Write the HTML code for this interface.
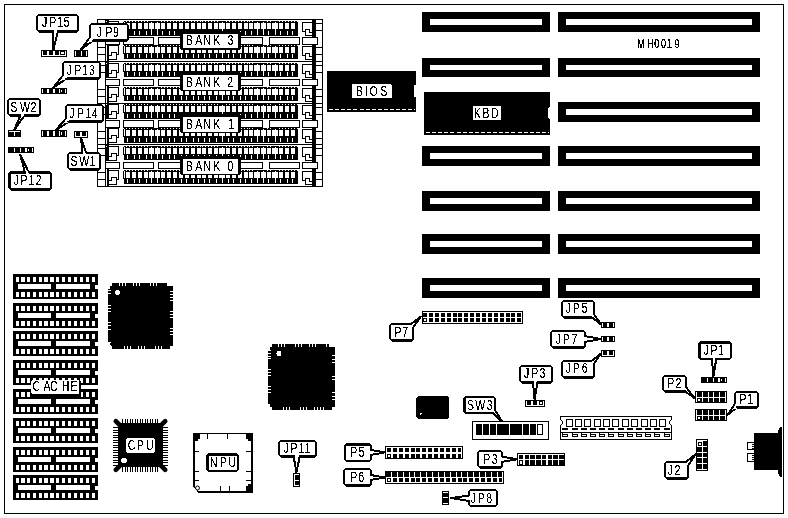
<!DOCTYPE html>
<html lang="en">
<head>
<meta charset="utf-8">
<title>MH0019 motherboard layout</title>
<style>
html,body{margin:0;padding:0;background:#fff;}
body{width:788px;height:518px;overflow:hidden;}
svg{display:block;}
svg text{font-family:"Liberation Sans",sans-serif;fill:#000;}
</style>
</head>
<body>
<svg width="788" height="518" viewBox="0 0 788 518" shape-rendering="crispEdges">
<defs><filter id="bw" x="0" y="0" width="788" height="518" filterUnits="userSpaceOnUse" color-interpolation-filters="sRGB"><feComponentTransfer><feFuncA type="discrete" tableValues="0 0 0 0 0 0 0 0 0 1 1 1 1 1 1 1 1 1 1 1"/></feComponentTransfer></filter><filter id="bw2" x="0" y="0" width="788" height="518" filterUnits="userSpaceOnUse" color-interpolation-filters="sRGB"><feComponentTransfer><feFuncA type="discrete" tableValues="0 0 0 1 1 1 1 1 1 1"/></feComponentTransfer></filter></defs>
<rect x="0" y="0" width="788" height="518" fill="#fff"/>
<rect x="4" y="4" width="780" height="510" fill="#000"/>
<rect x="5" y="5" width="778" height="508" fill="#fff"/>
<rect x="422" y="12" width="128" height="20" fill="#000"/>
<rect x="430" y="19" width="112" height="6" fill="#fff"/>
<rect x="558" y="12" width="202" height="20" fill="#000"/>
<rect x="566" y="19" width="186" height="6" fill="#fff"/>
<rect x="422" y="58" width="128" height="19" fill="#000"/>
<rect x="430" y="65" width="112" height="5" fill="#fff"/>
<rect x="558" y="58" width="202" height="19" fill="#000"/>
<rect x="566" y="65" width="186" height="5" fill="#fff"/>
<rect x="558" y="102" width="202" height="20" fill="#000"/>
<rect x="566" y="109" width="186" height="6" fill="#fff"/>
<rect x="422" y="146" width="128" height="20" fill="#000"/>
<rect x="430" y="153" width="112" height="6" fill="#fff"/>
<rect x="558" y="146" width="202" height="20" fill="#000"/>
<rect x="566" y="153" width="186" height="6" fill="#fff"/>
<rect x="422" y="191" width="128" height="20" fill="#000"/>
<rect x="430" y="198" width="112" height="6" fill="#fff"/>
<rect x="558" y="191" width="202" height="20" fill="#000"/>
<rect x="566" y="198" width="186" height="6" fill="#fff"/>
<rect x="422" y="234" width="128" height="20" fill="#000"/>
<rect x="430" y="241" width="112" height="6" fill="#fff"/>
<rect x="558" y="234" width="202" height="20" fill="#000"/>
<rect x="566" y="241" width="186" height="6" fill="#fff"/>
<rect x="422" y="278" width="128" height="20" fill="#000"/>
<rect x="430" y="285" width="112" height="6" fill="#fff"/>
<rect x="558" y="278" width="202" height="20" fill="#000"/>
<rect x="566" y="285" width="186" height="6" fill="#fff"/>
<rect x="327" y="71" width="89" height="41" fill="#000"/>
<rect x="329" y="109" width="4" height="1" fill="#fff"/>
<rect x="335" y="109" width="4" height="1" fill="#fff"/>
<rect x="341" y="109" width="4" height="1" fill="#fff"/>
<rect x="347" y="109" width="4" height="1" fill="#fff"/>
<rect x="353" y="109" width="4" height="1" fill="#fff"/>
<rect x="360" y="109" width="4" height="1" fill="#fff"/>
<rect x="366" y="109" width="4" height="1" fill="#fff"/>
<rect x="372" y="109" width="4" height="1" fill="#fff"/>
<rect x="378" y="109" width="4" height="1" fill="#fff"/>
<rect x="384" y="109" width="4" height="1" fill="#fff"/>
<rect x="390" y="109" width="4" height="1" fill="#fff"/>
<rect x="396" y="109" width="4" height="1" fill="#fff"/>
<rect x="402" y="109" width="4" height="1" fill="#fff"/>
<rect x="408" y="109" width="4" height="1" fill="#fff"/>
<rect x="414" y="109" width="1" height="1" fill="#fff"/>
<rect x="414" y="85" width="2" height="12" fill="#fff"/>
<rect x="352" y="84" width="40" height="14" fill="#fff"/>
<rect x="391" y="84" width="1" height="1" fill="#000"/>
<rect x="424" y="92" width="126" height="43" fill="#000"/>
<rect x="426" y="132" width="4" height="1" fill="#fff"/>
<rect x="432" y="132" width="4" height="1" fill="#fff"/>
<rect x="438" y="132" width="4" height="1" fill="#fff"/>
<rect x="444" y="132" width="4" height="1" fill="#fff"/>
<rect x="450" y="132" width="4" height="1" fill="#fff"/>
<rect x="457" y="132" width="4" height="1" fill="#fff"/>
<rect x="463" y="132" width="4" height="1" fill="#fff"/>
<rect x="469" y="132" width="4" height="1" fill="#fff"/>
<rect x="475" y="132" width="4" height="1" fill="#fff"/>
<rect x="481" y="132" width="4" height="1" fill="#fff"/>
<rect x="487" y="132" width="4" height="1" fill="#fff"/>
<rect x="493" y="132" width="4" height="1" fill="#fff"/>
<rect x="499" y="132" width="4" height="1" fill="#fff"/>
<rect x="505" y="132" width="4" height="1" fill="#fff"/>
<rect x="511" y="132" width="4" height="1" fill="#fff"/>
<rect x="518" y="132" width="4" height="1" fill="#fff"/>
<rect x="524" y="132" width="4" height="1" fill="#fff"/>
<rect x="530" y="132" width="4" height="1" fill="#fff"/>
<rect x="536" y="132" width="4" height="1" fill="#fff"/>
<rect x="542" y="132" width="4" height="1" fill="#fff"/>
<rect x="548" y="132" width="1" height="1" fill="#fff"/>
<path d="M550,107 L549,107 L548,109 L548,117 L549,119 L550,119 Z" fill="#fff"/>
<rect x="473" y="106" width="28" height="14" fill="#fff"/>
<rect x="97" y="19" width="226" height="1" fill="#000"/>
<rect x="97" y="19" width="1" height="42" fill="#000"/>
<rect x="105" y="19" width="1" height="42" fill="#000"/>
<rect x="322" y="19" width="1" height="42" fill="#000"/>
<rect x="97" y="23" width="9" height="1" fill="#000"/>
<rect x="315" y="23" width="8" height="1" fill="#000"/>
<rect x="97" y="30" width="9" height="1" fill="#000"/>
<rect x="315" y="30" width="8" height="1" fill="#000"/>
<rect x="97" y="47" width="9" height="1" fill="#000"/>
<rect x="315" y="47" width="8" height="1" fill="#000"/>
<rect x="97" y="54" width="9" height="1" fill="#000"/>
<rect x="315" y="54" width="8" height="1" fill="#000"/>
<rect x="105" y="19" width="4" height="17" fill="#000"/>
<rect x="107" y="44" width="2" height="17" fill="#000"/>
<rect x="106" y="21" width="1" height="1" fill="#fff"/>
<rect x="106" y="44" width="1" height="1" fill="#fff"/>
<rect x="312" y="19" width="4" height="42" fill="#000"/>
<rect x="123" y="21" width="175" height="15" fill="#000"/>
<rect x="124" y="22" width="1" height="7" fill="#fff"/>
<rect x="123" y="21" width="1" height="1" fill="#fff"/>
<rect x="297" y="21" width="1" height="1" fill="#fff"/>
<rect x="123" y="30" width="1" height="6" fill="#fff"/>
<rect x="126" y="23" width="4" height="6" fill="#fff"/>
<rect x="127" y="31" width="1" height="4" fill="#fff"/>
<rect x="126" y="21" width="1" height="1" fill="#fff"/>
<rect x="129" y="21" width="1" height="1" fill="#fff"/>
<rect x="132" y="23" width="4" height="6" fill="#fff"/>
<rect x="134" y="31" width="1" height="4" fill="#fff"/>
<rect x="132" y="21" width="1" height="1" fill="#fff"/>
<rect x="135" y="21" width="1" height="1" fill="#fff"/>
<rect x="138" y="23" width="4" height="6" fill="#fff"/>
<rect x="139" y="31" width="1" height="4" fill="#fff"/>
<rect x="138" y="21" width="1" height="1" fill="#fff"/>
<rect x="141" y="21" width="1" height="1" fill="#fff"/>
<rect x="144" y="23" width="4" height="6" fill="#fff"/>
<rect x="146" y="31" width="1" height="4" fill="#fff"/>
<rect x="144" y="21" width="1" height="1" fill="#fff"/>
<rect x="147" y="21" width="1" height="1" fill="#fff"/>
<rect x="149" y="23" width="5" height="6" fill="#fff"/>
<rect x="151" y="22" width="1" height="13" fill="#fff"/>
<rect x="155" y="23" width="5" height="6" fill="#fff"/>
<rect x="157" y="22" width="1" height="13" fill="#fff"/>
<rect x="161" y="23" width="4" height="6" fill="#fff"/>
<rect x="162" y="31" width="1" height="4" fill="#fff"/>
<rect x="161" y="21" width="1" height="1" fill="#fff"/>
<rect x="164" y="21" width="1" height="1" fill="#fff"/>
<rect x="167" y="23" width="4" height="6" fill="#fff"/>
<rect x="169" y="31" width="1" height="4" fill="#fff"/>
<rect x="167" y="21" width="1" height="1" fill="#fff"/>
<rect x="170" y="21" width="1" height="1" fill="#fff"/>
<rect x="173" y="23" width="4" height="6" fill="#fff"/>
<rect x="174" y="31" width="1" height="4" fill="#fff"/>
<rect x="173" y="21" width="1" height="1" fill="#fff"/>
<rect x="176" y="21" width="1" height="1" fill="#fff"/>
<rect x="179" y="23" width="4" height="6" fill="#fff"/>
<rect x="181" y="31" width="1" height="4" fill="#fff"/>
<rect x="179" y="21" width="1" height="1" fill="#fff"/>
<rect x="182" y="21" width="1" height="1" fill="#fff"/>
<rect x="185" y="23" width="4" height="6" fill="#fff"/>
<rect x="186" y="31" width="1" height="4" fill="#fff"/>
<rect x="185" y="21" width="1" height="1" fill="#fff"/>
<rect x="188" y="21" width="1" height="1" fill="#fff"/>
<rect x="191" y="23" width="4" height="6" fill="#fff"/>
<rect x="193" y="31" width="1" height="4" fill="#fff"/>
<rect x="191" y="21" width="1" height="1" fill="#fff"/>
<rect x="194" y="21" width="1" height="1" fill="#fff"/>
<rect x="197" y="23" width="4" height="6" fill="#fff"/>
<rect x="198" y="31" width="1" height="4" fill="#fff"/>
<rect x="197" y="21" width="1" height="1" fill="#fff"/>
<rect x="200" y="21" width="1" height="1" fill="#fff"/>
<rect x="202" y="23" width="4" height="6" fill="#fff"/>
<rect x="204" y="31" width="1" height="4" fill="#fff"/>
<rect x="202" y="21" width="1" height="1" fill="#fff"/>
<rect x="205" y="21" width="1" height="1" fill="#fff"/>
<rect x="208" y="23" width="4" height="6" fill="#fff"/>
<rect x="209" y="31" width="1" height="4" fill="#fff"/>
<rect x="208" y="21" width="1" height="1" fill="#fff"/>
<rect x="211" y="21" width="1" height="1" fill="#fff"/>
<rect x="214" y="23" width="4" height="6" fill="#fff"/>
<rect x="216" y="31" width="1" height="4" fill="#fff"/>
<rect x="214" y="21" width="1" height="1" fill="#fff"/>
<rect x="217" y="21" width="1" height="1" fill="#fff"/>
<rect x="219" y="23" width="6" height="6" fill="#fff"/>
<rect x="222" y="22" width="1" height="13" fill="#fff"/>
<rect x="226" y="23" width="4" height="6" fill="#fff"/>
<rect x="228" y="31" width="1" height="4" fill="#fff"/>
<rect x="226" y="21" width="1" height="1" fill="#fff"/>
<rect x="229" y="21" width="1" height="1" fill="#fff"/>
<rect x="232" y="23" width="4" height="6" fill="#fff"/>
<rect x="233" y="31" width="1" height="4" fill="#fff"/>
<rect x="232" y="21" width="1" height="1" fill="#fff"/>
<rect x="235" y="21" width="1" height="1" fill="#fff"/>
<rect x="238" y="23" width="4" height="6" fill="#fff"/>
<rect x="240" y="31" width="1" height="4" fill="#fff"/>
<rect x="238" y="21" width="1" height="1" fill="#fff"/>
<rect x="241" y="21" width="1" height="1" fill="#fff"/>
<rect x="244" y="23" width="4" height="6" fill="#fff"/>
<rect x="245" y="31" width="1" height="4" fill="#fff"/>
<rect x="244" y="21" width="1" height="1" fill="#fff"/>
<rect x="247" y="21" width="1" height="1" fill="#fff"/>
<rect x="249" y="23" width="4" height="6" fill="#fff"/>
<rect x="251" y="31" width="1" height="4" fill="#fff"/>
<rect x="249" y="21" width="1" height="1" fill="#fff"/>
<rect x="252" y="21" width="1" height="1" fill="#fff"/>
<rect x="254" y="23" width="6" height="6" fill="#fff"/>
<rect x="257" y="22" width="1" height="13" fill="#fff"/>
<rect x="261" y="23" width="5" height="6" fill="#fff"/>
<rect x="263" y="22" width="1" height="13" fill="#fff"/>
<rect x="267" y="23" width="4" height="6" fill="#fff"/>
<rect x="268" y="31" width="1" height="4" fill="#fff"/>
<rect x="267" y="21" width="1" height="1" fill="#fff"/>
<rect x="270" y="21" width="1" height="1" fill="#fff"/>
<rect x="272" y="23" width="6" height="6" fill="#fff"/>
<rect x="275" y="22" width="1" height="13" fill="#fff"/>
<rect x="279" y="23" width="4" height="6" fill="#fff"/>
<rect x="280" y="31" width="1" height="4" fill="#fff"/>
<rect x="279" y="21" width="1" height="1" fill="#fff"/>
<rect x="282" y="21" width="1" height="1" fill="#fff"/>
<rect x="285" y="23" width="4" height="6" fill="#fff"/>
<rect x="287" y="31" width="1" height="4" fill="#fff"/>
<rect x="285" y="21" width="1" height="1" fill="#fff"/>
<rect x="288" y="21" width="1" height="1" fill="#fff"/>
<rect x="291" y="23" width="4" height="6" fill="#fff"/>
<rect x="292" y="31" width="1" height="4" fill="#fff"/>
<rect x="291" y="21" width="1" height="1" fill="#fff"/>
<rect x="294" y="21" width="1" height="1" fill="#fff"/>
<rect x="123" y="45" width="175" height="14" fill="#000"/>
<rect x="124" y="46" width="1" height="7" fill="#fff"/>
<rect x="123" y="45" width="1" height="1" fill="#fff"/>
<rect x="297" y="45" width="1" height="1" fill="#fff"/>
<rect x="123" y="54" width="1" height="5" fill="#fff"/>
<rect x="126" y="47" width="4" height="6" fill="#fff"/>
<rect x="127" y="54" width="1" height="4" fill="#fff"/>
<rect x="126" y="45" width="1" height="1" fill="#fff"/>
<rect x="129" y="45" width="1" height="1" fill="#fff"/>
<rect x="132" y="47" width="4" height="6" fill="#fff"/>
<rect x="134" y="54" width="1" height="4" fill="#fff"/>
<rect x="132" y="45" width="1" height="1" fill="#fff"/>
<rect x="135" y="45" width="1" height="1" fill="#fff"/>
<rect x="138" y="47" width="4" height="6" fill="#fff"/>
<rect x="139" y="54" width="1" height="4" fill="#fff"/>
<rect x="138" y="45" width="1" height="1" fill="#fff"/>
<rect x="141" y="45" width="1" height="1" fill="#fff"/>
<rect x="144" y="47" width="4" height="6" fill="#fff"/>
<rect x="146" y="54" width="1" height="4" fill="#fff"/>
<rect x="144" y="45" width="1" height="1" fill="#fff"/>
<rect x="147" y="45" width="1" height="1" fill="#fff"/>
<rect x="149" y="47" width="5" height="6" fill="#fff"/>
<rect x="151" y="46" width="1" height="12" fill="#fff"/>
<rect x="155" y="47" width="5" height="6" fill="#fff"/>
<rect x="157" y="46" width="1" height="12" fill="#fff"/>
<rect x="161" y="47" width="4" height="6" fill="#fff"/>
<rect x="162" y="54" width="1" height="4" fill="#fff"/>
<rect x="161" y="45" width="1" height="1" fill="#fff"/>
<rect x="164" y="45" width="1" height="1" fill="#fff"/>
<rect x="167" y="47" width="4" height="6" fill="#fff"/>
<rect x="169" y="54" width="1" height="4" fill="#fff"/>
<rect x="167" y="45" width="1" height="1" fill="#fff"/>
<rect x="170" y="45" width="1" height="1" fill="#fff"/>
<rect x="173" y="47" width="4" height="6" fill="#fff"/>
<rect x="174" y="54" width="1" height="4" fill="#fff"/>
<rect x="173" y="45" width="1" height="1" fill="#fff"/>
<rect x="176" y="45" width="1" height="1" fill="#fff"/>
<rect x="179" y="47" width="4" height="6" fill="#fff"/>
<rect x="181" y="54" width="1" height="4" fill="#fff"/>
<rect x="179" y="45" width="1" height="1" fill="#fff"/>
<rect x="182" y="45" width="1" height="1" fill="#fff"/>
<rect x="185" y="47" width="4" height="6" fill="#fff"/>
<rect x="186" y="54" width="1" height="4" fill="#fff"/>
<rect x="185" y="45" width="1" height="1" fill="#fff"/>
<rect x="188" y="45" width="1" height="1" fill="#fff"/>
<rect x="191" y="47" width="4" height="6" fill="#fff"/>
<rect x="193" y="54" width="1" height="4" fill="#fff"/>
<rect x="191" y="45" width="1" height="1" fill="#fff"/>
<rect x="194" y="45" width="1" height="1" fill="#fff"/>
<rect x="197" y="47" width="4" height="6" fill="#fff"/>
<rect x="198" y="54" width="1" height="4" fill="#fff"/>
<rect x="197" y="45" width="1" height="1" fill="#fff"/>
<rect x="200" y="45" width="1" height="1" fill="#fff"/>
<rect x="202" y="47" width="4" height="6" fill="#fff"/>
<rect x="204" y="54" width="1" height="4" fill="#fff"/>
<rect x="202" y="45" width="1" height="1" fill="#fff"/>
<rect x="205" y="45" width="1" height="1" fill="#fff"/>
<rect x="208" y="47" width="4" height="6" fill="#fff"/>
<rect x="209" y="54" width="1" height="4" fill="#fff"/>
<rect x="208" y="45" width="1" height="1" fill="#fff"/>
<rect x="211" y="45" width="1" height="1" fill="#fff"/>
<rect x="214" y="47" width="4" height="6" fill="#fff"/>
<rect x="216" y="54" width="1" height="4" fill="#fff"/>
<rect x="214" y="45" width="1" height="1" fill="#fff"/>
<rect x="217" y="45" width="1" height="1" fill="#fff"/>
<rect x="219" y="47" width="6" height="6" fill="#fff"/>
<rect x="222" y="46" width="1" height="12" fill="#fff"/>
<rect x="226" y="47" width="4" height="6" fill="#fff"/>
<rect x="228" y="54" width="1" height="4" fill="#fff"/>
<rect x="226" y="45" width="1" height="1" fill="#fff"/>
<rect x="229" y="45" width="1" height="1" fill="#fff"/>
<rect x="232" y="47" width="4" height="6" fill="#fff"/>
<rect x="233" y="54" width="1" height="4" fill="#fff"/>
<rect x="232" y="45" width="1" height="1" fill="#fff"/>
<rect x="235" y="45" width="1" height="1" fill="#fff"/>
<rect x="238" y="47" width="4" height="6" fill="#fff"/>
<rect x="240" y="54" width="1" height="4" fill="#fff"/>
<rect x="238" y="45" width="1" height="1" fill="#fff"/>
<rect x="241" y="45" width="1" height="1" fill="#fff"/>
<rect x="244" y="47" width="4" height="6" fill="#fff"/>
<rect x="245" y="54" width="1" height="4" fill="#fff"/>
<rect x="244" y="45" width="1" height="1" fill="#fff"/>
<rect x="247" y="45" width="1" height="1" fill="#fff"/>
<rect x="249" y="47" width="4" height="6" fill="#fff"/>
<rect x="251" y="54" width="1" height="4" fill="#fff"/>
<rect x="249" y="45" width="1" height="1" fill="#fff"/>
<rect x="252" y="45" width="1" height="1" fill="#fff"/>
<rect x="254" y="47" width="6" height="6" fill="#fff"/>
<rect x="257" y="46" width="1" height="12" fill="#fff"/>
<rect x="261" y="47" width="5" height="6" fill="#fff"/>
<rect x="263" y="46" width="1" height="12" fill="#fff"/>
<rect x="267" y="47" width="4" height="6" fill="#fff"/>
<rect x="268" y="54" width="1" height="4" fill="#fff"/>
<rect x="267" y="45" width="1" height="1" fill="#fff"/>
<rect x="270" y="45" width="1" height="1" fill="#fff"/>
<rect x="272" y="47" width="6" height="6" fill="#fff"/>
<rect x="275" y="46" width="1" height="12" fill="#fff"/>
<rect x="279" y="47" width="4" height="6" fill="#fff"/>
<rect x="280" y="54" width="1" height="4" fill="#fff"/>
<rect x="279" y="45" width="1" height="1" fill="#fff"/>
<rect x="282" y="45" width="1" height="1" fill="#fff"/>
<rect x="285" y="47" width="4" height="6" fill="#fff"/>
<rect x="287" y="54" width="1" height="4" fill="#fff"/>
<rect x="285" y="45" width="1" height="1" fill="#fff"/>
<rect x="288" y="45" width="1" height="1" fill="#fff"/>
<rect x="291" y="47" width="4" height="6" fill="#fff"/>
<rect x="292" y="54" width="1" height="4" fill="#fff"/>
<rect x="291" y="45" width="1" height="1" fill="#fff"/>
<rect x="294" y="45" width="1" height="1" fill="#fff"/>
<rect x="109" y="21" width="10" height="15" fill="#fff"/>
<rect x="109" y="21" width="10" height="1" fill="#000"/>
<rect x="118" y="21" width="1" height="10" fill="#000"/>
<rect x="116" y="30" width="3" height="1" fill="#000"/>
<rect x="116" y="28" width="1" height="8" fill="#000"/>
<rect x="111" y="28" width="6" height="1" fill="#000"/>
<rect x="111" y="28" width="1" height="4" fill="#000"/>
<rect x="109" y="31" width="3" height="1" fill="#000"/>
<rect x="109" y="35" width="8" height="1" fill="#000"/>
<rect x="117" y="31" width="2" height="5" fill="#fff"/>
<rect x="109" y="45" width="10" height="15" fill="#fff"/>
<rect x="109" y="45" width="10" height="1" fill="#000"/>
<rect x="118" y="45" width="1" height="10" fill="#000"/>
<rect x="116" y="54" width="3" height="1" fill="#000"/>
<rect x="116" y="52" width="1" height="8" fill="#000"/>
<rect x="111" y="52" width="6" height="1" fill="#000"/>
<rect x="111" y="52" width="1" height="4" fill="#000"/>
<rect x="109" y="55" width="3" height="1" fill="#000"/>
<rect x="109" y="59" width="8" height="1" fill="#000"/>
<rect x="117" y="55" width="2" height="5" fill="#fff"/>
<rect x="302" y="22" width="10" height="14" fill="#fff"/>
<rect x="302" y="22" width="10" height="1" fill="#000"/>
<rect x="302" y="22" width="1" height="10" fill="#000"/>
<rect x="302" y="31" width="4" height="1" fill="#000"/>
<rect x="305" y="29" width="1" height="7" fill="#000"/>
<rect x="305" y="29" width="5" height="1" fill="#000"/>
<rect x="309" y="29" width="1" height="4" fill="#000"/>
<rect x="309" y="32" width="3" height="1" fill="#000"/>
<rect x="305" y="35" width="7" height="1" fill="#000"/>
<rect x="302" y="32" width="3" height="4" fill="#fff"/>
<rect x="302" y="46" width="10" height="14" fill="#fff"/>
<rect x="302" y="46" width="10" height="1" fill="#000"/>
<rect x="302" y="46" width="1" height="10" fill="#000"/>
<rect x="302" y="55" width="4" height="1" fill="#000"/>
<rect x="305" y="53" width="1" height="7" fill="#000"/>
<rect x="305" y="53" width="5" height="1" fill="#000"/>
<rect x="309" y="53" width="1" height="4" fill="#000"/>
<rect x="309" y="56" width="3" height="1" fill="#000"/>
<rect x="305" y="59" width="7" height="1" fill="#000"/>
<rect x="302" y="56" width="3" height="4" fill="#fff"/>
<rect x="105" y="37" width="15" height="8" fill="#000"/>
<rect x="106" y="38" width="13" height="6" fill="#fff"/>
<rect x="123" y="37" width="31" height="8" fill="#000"/>
<rect x="124" y="38" width="29" height="6" fill="#fff"/>
<rect x="158" y="37" width="105" height="8" fill="#000"/>
<rect x="159" y="38" width="103" height="6" fill="#fff"/>
<rect x="269" y="37" width="31" height="8" fill="#000"/>
<rect x="270" y="38" width="29" height="6" fill="#fff"/>
<rect x="302" y="37" width="16" height="8" fill="#000"/>
<rect x="303" y="38" width="14" height="6" fill="#fff"/>
<rect x="97" y="61" width="226" height="1" fill="#000"/>
<rect x="97" y="61" width="1" height="42" fill="#000"/>
<rect x="105" y="61" width="1" height="42" fill="#000"/>
<rect x="322" y="61" width="1" height="42" fill="#000"/>
<rect x="97" y="65" width="9" height="1" fill="#000"/>
<rect x="315" y="65" width="8" height="1" fill="#000"/>
<rect x="97" y="72" width="9" height="1" fill="#000"/>
<rect x="315" y="72" width="8" height="1" fill="#000"/>
<rect x="97" y="89" width="9" height="1" fill="#000"/>
<rect x="315" y="89" width="8" height="1" fill="#000"/>
<rect x="97" y="96" width="9" height="1" fill="#000"/>
<rect x="315" y="96" width="8" height="1" fill="#000"/>
<rect x="105" y="61" width="4" height="17" fill="#000"/>
<rect x="107" y="86" width="2" height="17" fill="#000"/>
<rect x="106" y="63" width="1" height="1" fill="#fff"/>
<rect x="106" y="86" width="1" height="1" fill="#fff"/>
<rect x="312" y="61" width="4" height="42" fill="#000"/>
<rect x="123" y="63" width="175" height="14" fill="#000"/>
<rect x="124" y="64" width="1" height="7" fill="#fff"/>
<rect x="123" y="63" width="1" height="1" fill="#fff"/>
<rect x="297" y="63" width="1" height="1" fill="#fff"/>
<rect x="123" y="72" width="1" height="5" fill="#fff"/>
<rect x="126" y="65" width="4" height="6" fill="#fff"/>
<rect x="127" y="72" width="1" height="4" fill="#fff"/>
<rect x="126" y="63" width="1" height="1" fill="#fff"/>
<rect x="129" y="63" width="1" height="1" fill="#fff"/>
<rect x="132" y="65" width="4" height="6" fill="#fff"/>
<rect x="134" y="72" width="1" height="4" fill="#fff"/>
<rect x="132" y="63" width="1" height="1" fill="#fff"/>
<rect x="135" y="63" width="1" height="1" fill="#fff"/>
<rect x="138" y="65" width="4" height="6" fill="#fff"/>
<rect x="139" y="72" width="1" height="4" fill="#fff"/>
<rect x="138" y="63" width="1" height="1" fill="#fff"/>
<rect x="141" y="63" width="1" height="1" fill="#fff"/>
<rect x="144" y="65" width="4" height="6" fill="#fff"/>
<rect x="146" y="72" width="1" height="4" fill="#fff"/>
<rect x="144" y="63" width="1" height="1" fill="#fff"/>
<rect x="147" y="63" width="1" height="1" fill="#fff"/>
<rect x="149" y="65" width="5" height="6" fill="#fff"/>
<rect x="151" y="64" width="1" height="12" fill="#fff"/>
<rect x="155" y="65" width="5" height="6" fill="#fff"/>
<rect x="157" y="64" width="1" height="12" fill="#fff"/>
<rect x="161" y="65" width="4" height="6" fill="#fff"/>
<rect x="162" y="72" width="1" height="4" fill="#fff"/>
<rect x="161" y="63" width="1" height="1" fill="#fff"/>
<rect x="164" y="63" width="1" height="1" fill="#fff"/>
<rect x="167" y="65" width="4" height="6" fill="#fff"/>
<rect x="169" y="72" width="1" height="4" fill="#fff"/>
<rect x="167" y="63" width="1" height="1" fill="#fff"/>
<rect x="170" y="63" width="1" height="1" fill="#fff"/>
<rect x="173" y="65" width="4" height="6" fill="#fff"/>
<rect x="174" y="72" width="1" height="4" fill="#fff"/>
<rect x="173" y="63" width="1" height="1" fill="#fff"/>
<rect x="176" y="63" width="1" height="1" fill="#fff"/>
<rect x="179" y="65" width="4" height="6" fill="#fff"/>
<rect x="181" y="72" width="1" height="4" fill="#fff"/>
<rect x="179" y="63" width="1" height="1" fill="#fff"/>
<rect x="182" y="63" width="1" height="1" fill="#fff"/>
<rect x="185" y="65" width="4" height="6" fill="#fff"/>
<rect x="186" y="72" width="1" height="4" fill="#fff"/>
<rect x="185" y="63" width="1" height="1" fill="#fff"/>
<rect x="188" y="63" width="1" height="1" fill="#fff"/>
<rect x="191" y="65" width="4" height="6" fill="#fff"/>
<rect x="193" y="72" width="1" height="4" fill="#fff"/>
<rect x="191" y="63" width="1" height="1" fill="#fff"/>
<rect x="194" y="63" width="1" height="1" fill="#fff"/>
<rect x="197" y="65" width="4" height="6" fill="#fff"/>
<rect x="198" y="72" width="1" height="4" fill="#fff"/>
<rect x="197" y="63" width="1" height="1" fill="#fff"/>
<rect x="200" y="63" width="1" height="1" fill="#fff"/>
<rect x="202" y="65" width="4" height="6" fill="#fff"/>
<rect x="204" y="72" width="1" height="4" fill="#fff"/>
<rect x="202" y="63" width="1" height="1" fill="#fff"/>
<rect x="205" y="63" width="1" height="1" fill="#fff"/>
<rect x="208" y="65" width="4" height="6" fill="#fff"/>
<rect x="209" y="72" width="1" height="4" fill="#fff"/>
<rect x="208" y="63" width="1" height="1" fill="#fff"/>
<rect x="211" y="63" width="1" height="1" fill="#fff"/>
<rect x="214" y="65" width="4" height="6" fill="#fff"/>
<rect x="216" y="72" width="1" height="4" fill="#fff"/>
<rect x="214" y="63" width="1" height="1" fill="#fff"/>
<rect x="217" y="63" width="1" height="1" fill="#fff"/>
<rect x="219" y="65" width="6" height="6" fill="#fff"/>
<rect x="222" y="64" width="1" height="12" fill="#fff"/>
<rect x="226" y="65" width="4" height="6" fill="#fff"/>
<rect x="228" y="72" width="1" height="4" fill="#fff"/>
<rect x="226" y="63" width="1" height="1" fill="#fff"/>
<rect x="229" y="63" width="1" height="1" fill="#fff"/>
<rect x="232" y="65" width="4" height="6" fill="#fff"/>
<rect x="233" y="72" width="1" height="4" fill="#fff"/>
<rect x="232" y="63" width="1" height="1" fill="#fff"/>
<rect x="235" y="63" width="1" height="1" fill="#fff"/>
<rect x="238" y="65" width="4" height="6" fill="#fff"/>
<rect x="240" y="72" width="1" height="4" fill="#fff"/>
<rect x="238" y="63" width="1" height="1" fill="#fff"/>
<rect x="241" y="63" width="1" height="1" fill="#fff"/>
<rect x="244" y="65" width="4" height="6" fill="#fff"/>
<rect x="245" y="72" width="1" height="4" fill="#fff"/>
<rect x="244" y="63" width="1" height="1" fill="#fff"/>
<rect x="247" y="63" width="1" height="1" fill="#fff"/>
<rect x="249" y="65" width="4" height="6" fill="#fff"/>
<rect x="251" y="72" width="1" height="4" fill="#fff"/>
<rect x="249" y="63" width="1" height="1" fill="#fff"/>
<rect x="252" y="63" width="1" height="1" fill="#fff"/>
<rect x="254" y="65" width="6" height="6" fill="#fff"/>
<rect x="257" y="64" width="1" height="12" fill="#fff"/>
<rect x="261" y="65" width="5" height="6" fill="#fff"/>
<rect x="263" y="64" width="1" height="12" fill="#fff"/>
<rect x="267" y="65" width="4" height="6" fill="#fff"/>
<rect x="268" y="72" width="1" height="4" fill="#fff"/>
<rect x="267" y="63" width="1" height="1" fill="#fff"/>
<rect x="270" y="63" width="1" height="1" fill="#fff"/>
<rect x="272" y="65" width="6" height="6" fill="#fff"/>
<rect x="275" y="64" width="1" height="12" fill="#fff"/>
<rect x="279" y="65" width="4" height="6" fill="#fff"/>
<rect x="280" y="72" width="1" height="4" fill="#fff"/>
<rect x="279" y="63" width="1" height="1" fill="#fff"/>
<rect x="282" y="63" width="1" height="1" fill="#fff"/>
<rect x="285" y="65" width="4" height="6" fill="#fff"/>
<rect x="287" y="72" width="1" height="4" fill="#fff"/>
<rect x="285" y="63" width="1" height="1" fill="#fff"/>
<rect x="288" y="63" width="1" height="1" fill="#fff"/>
<rect x="291" y="65" width="4" height="6" fill="#fff"/>
<rect x="292" y="72" width="1" height="4" fill="#fff"/>
<rect x="291" y="63" width="1" height="1" fill="#fff"/>
<rect x="294" y="63" width="1" height="1" fill="#fff"/>
<rect x="123" y="87" width="175" height="14" fill="#000"/>
<rect x="124" y="88" width="1" height="7" fill="#fff"/>
<rect x="123" y="87" width="1" height="1" fill="#fff"/>
<rect x="297" y="87" width="1" height="1" fill="#fff"/>
<rect x="123" y="96" width="1" height="5" fill="#fff"/>
<rect x="126" y="89" width="4" height="6" fill="#fff"/>
<rect x="127" y="96" width="1" height="4" fill="#fff"/>
<rect x="126" y="87" width="1" height="1" fill="#fff"/>
<rect x="129" y="87" width="1" height="1" fill="#fff"/>
<rect x="132" y="89" width="4" height="6" fill="#fff"/>
<rect x="134" y="96" width="1" height="4" fill="#fff"/>
<rect x="132" y="87" width="1" height="1" fill="#fff"/>
<rect x="135" y="87" width="1" height="1" fill="#fff"/>
<rect x="138" y="89" width="4" height="6" fill="#fff"/>
<rect x="139" y="96" width="1" height="4" fill="#fff"/>
<rect x="138" y="87" width="1" height="1" fill="#fff"/>
<rect x="141" y="87" width="1" height="1" fill="#fff"/>
<rect x="144" y="89" width="4" height="6" fill="#fff"/>
<rect x="146" y="96" width="1" height="4" fill="#fff"/>
<rect x="144" y="87" width="1" height="1" fill="#fff"/>
<rect x="147" y="87" width="1" height="1" fill="#fff"/>
<rect x="149" y="89" width="5" height="6" fill="#fff"/>
<rect x="151" y="88" width="1" height="12" fill="#fff"/>
<rect x="155" y="89" width="5" height="6" fill="#fff"/>
<rect x="157" y="88" width="1" height="12" fill="#fff"/>
<rect x="161" y="89" width="4" height="6" fill="#fff"/>
<rect x="162" y="96" width="1" height="4" fill="#fff"/>
<rect x="161" y="87" width="1" height="1" fill="#fff"/>
<rect x="164" y="87" width="1" height="1" fill="#fff"/>
<rect x="167" y="89" width="4" height="6" fill="#fff"/>
<rect x="169" y="96" width="1" height="4" fill="#fff"/>
<rect x="167" y="87" width="1" height="1" fill="#fff"/>
<rect x="170" y="87" width="1" height="1" fill="#fff"/>
<rect x="173" y="89" width="4" height="6" fill="#fff"/>
<rect x="174" y="96" width="1" height="4" fill="#fff"/>
<rect x="173" y="87" width="1" height="1" fill="#fff"/>
<rect x="176" y="87" width="1" height="1" fill="#fff"/>
<rect x="179" y="89" width="4" height="6" fill="#fff"/>
<rect x="181" y="96" width="1" height="4" fill="#fff"/>
<rect x="179" y="87" width="1" height="1" fill="#fff"/>
<rect x="182" y="87" width="1" height="1" fill="#fff"/>
<rect x="185" y="89" width="4" height="6" fill="#fff"/>
<rect x="186" y="96" width="1" height="4" fill="#fff"/>
<rect x="185" y="87" width="1" height="1" fill="#fff"/>
<rect x="188" y="87" width="1" height="1" fill="#fff"/>
<rect x="191" y="89" width="4" height="6" fill="#fff"/>
<rect x="193" y="96" width="1" height="4" fill="#fff"/>
<rect x="191" y="87" width="1" height="1" fill="#fff"/>
<rect x="194" y="87" width="1" height="1" fill="#fff"/>
<rect x="197" y="89" width="4" height="6" fill="#fff"/>
<rect x="198" y="96" width="1" height="4" fill="#fff"/>
<rect x="197" y="87" width="1" height="1" fill="#fff"/>
<rect x="200" y="87" width="1" height="1" fill="#fff"/>
<rect x="202" y="89" width="4" height="6" fill="#fff"/>
<rect x="204" y="96" width="1" height="4" fill="#fff"/>
<rect x="202" y="87" width="1" height="1" fill="#fff"/>
<rect x="205" y="87" width="1" height="1" fill="#fff"/>
<rect x="208" y="89" width="4" height="6" fill="#fff"/>
<rect x="209" y="96" width="1" height="4" fill="#fff"/>
<rect x="208" y="87" width="1" height="1" fill="#fff"/>
<rect x="211" y="87" width="1" height="1" fill="#fff"/>
<rect x="214" y="89" width="4" height="6" fill="#fff"/>
<rect x="216" y="96" width="1" height="4" fill="#fff"/>
<rect x="214" y="87" width="1" height="1" fill="#fff"/>
<rect x="217" y="87" width="1" height="1" fill="#fff"/>
<rect x="219" y="89" width="6" height="6" fill="#fff"/>
<rect x="222" y="88" width="1" height="12" fill="#fff"/>
<rect x="226" y="89" width="4" height="6" fill="#fff"/>
<rect x="228" y="96" width="1" height="4" fill="#fff"/>
<rect x="226" y="87" width="1" height="1" fill="#fff"/>
<rect x="229" y="87" width="1" height="1" fill="#fff"/>
<rect x="232" y="89" width="4" height="6" fill="#fff"/>
<rect x="233" y="96" width="1" height="4" fill="#fff"/>
<rect x="232" y="87" width="1" height="1" fill="#fff"/>
<rect x="235" y="87" width="1" height="1" fill="#fff"/>
<rect x="238" y="89" width="4" height="6" fill="#fff"/>
<rect x="240" y="96" width="1" height="4" fill="#fff"/>
<rect x="238" y="87" width="1" height="1" fill="#fff"/>
<rect x="241" y="87" width="1" height="1" fill="#fff"/>
<rect x="244" y="89" width="4" height="6" fill="#fff"/>
<rect x="245" y="96" width="1" height="4" fill="#fff"/>
<rect x="244" y="87" width="1" height="1" fill="#fff"/>
<rect x="247" y="87" width="1" height="1" fill="#fff"/>
<rect x="249" y="89" width="4" height="6" fill="#fff"/>
<rect x="251" y="96" width="1" height="4" fill="#fff"/>
<rect x="249" y="87" width="1" height="1" fill="#fff"/>
<rect x="252" y="87" width="1" height="1" fill="#fff"/>
<rect x="254" y="89" width="6" height="6" fill="#fff"/>
<rect x="257" y="88" width="1" height="12" fill="#fff"/>
<rect x="261" y="89" width="5" height="6" fill="#fff"/>
<rect x="263" y="88" width="1" height="12" fill="#fff"/>
<rect x="267" y="89" width="4" height="6" fill="#fff"/>
<rect x="268" y="96" width="1" height="4" fill="#fff"/>
<rect x="267" y="87" width="1" height="1" fill="#fff"/>
<rect x="270" y="87" width="1" height="1" fill="#fff"/>
<rect x="272" y="89" width="6" height="6" fill="#fff"/>
<rect x="275" y="88" width="1" height="12" fill="#fff"/>
<rect x="279" y="89" width="4" height="6" fill="#fff"/>
<rect x="280" y="96" width="1" height="4" fill="#fff"/>
<rect x="279" y="87" width="1" height="1" fill="#fff"/>
<rect x="282" y="87" width="1" height="1" fill="#fff"/>
<rect x="285" y="89" width="4" height="6" fill="#fff"/>
<rect x="287" y="96" width="1" height="4" fill="#fff"/>
<rect x="285" y="87" width="1" height="1" fill="#fff"/>
<rect x="288" y="87" width="1" height="1" fill="#fff"/>
<rect x="291" y="89" width="4" height="6" fill="#fff"/>
<rect x="292" y="96" width="1" height="4" fill="#fff"/>
<rect x="291" y="87" width="1" height="1" fill="#fff"/>
<rect x="294" y="87" width="1" height="1" fill="#fff"/>
<rect x="109" y="63" width="10" height="15" fill="#fff"/>
<rect x="109" y="63" width="10" height="1" fill="#000"/>
<rect x="118" y="63" width="1" height="10" fill="#000"/>
<rect x="116" y="72" width="3" height="1" fill="#000"/>
<rect x="116" y="70" width="1" height="8" fill="#000"/>
<rect x="111" y="70" width="6" height="1" fill="#000"/>
<rect x="111" y="70" width="1" height="4" fill="#000"/>
<rect x="109" y="73" width="3" height="1" fill="#000"/>
<rect x="109" y="77" width="8" height="1" fill="#000"/>
<rect x="117" y="73" width="2" height="5" fill="#fff"/>
<rect x="109" y="87" width="10" height="15" fill="#fff"/>
<rect x="109" y="87" width="10" height="1" fill="#000"/>
<rect x="118" y="87" width="1" height="10" fill="#000"/>
<rect x="116" y="96" width="3" height="1" fill="#000"/>
<rect x="116" y="94" width="1" height="8" fill="#000"/>
<rect x="111" y="94" width="6" height="1" fill="#000"/>
<rect x="111" y="94" width="1" height="4" fill="#000"/>
<rect x="109" y="97" width="3" height="1" fill="#000"/>
<rect x="109" y="101" width="8" height="1" fill="#000"/>
<rect x="117" y="97" width="2" height="5" fill="#fff"/>
<rect x="302" y="64" width="10" height="14" fill="#fff"/>
<rect x="302" y="64" width="10" height="1" fill="#000"/>
<rect x="302" y="64" width="1" height="10" fill="#000"/>
<rect x="302" y="73" width="4" height="1" fill="#000"/>
<rect x="305" y="71" width="1" height="7" fill="#000"/>
<rect x="305" y="71" width="5" height="1" fill="#000"/>
<rect x="309" y="71" width="1" height="4" fill="#000"/>
<rect x="309" y="74" width="3" height="1" fill="#000"/>
<rect x="305" y="77" width="7" height="1" fill="#000"/>
<rect x="302" y="74" width="3" height="4" fill="#fff"/>
<rect x="302" y="88" width="10" height="14" fill="#fff"/>
<rect x="302" y="88" width="10" height="1" fill="#000"/>
<rect x="302" y="88" width="1" height="10" fill="#000"/>
<rect x="302" y="97" width="4" height="1" fill="#000"/>
<rect x="305" y="95" width="1" height="7" fill="#000"/>
<rect x="305" y="95" width="5" height="1" fill="#000"/>
<rect x="309" y="95" width="1" height="4" fill="#000"/>
<rect x="309" y="98" width="3" height="1" fill="#000"/>
<rect x="305" y="101" width="7" height="1" fill="#000"/>
<rect x="302" y="98" width="3" height="4" fill="#fff"/>
<rect x="105" y="79" width="15" height="7" fill="#000"/>
<rect x="106" y="80" width="13" height="5" fill="#fff"/>
<rect x="123" y="79" width="31" height="7" fill="#000"/>
<rect x="124" y="80" width="29" height="5" fill="#fff"/>
<rect x="158" y="79" width="105" height="7" fill="#000"/>
<rect x="159" y="80" width="103" height="5" fill="#fff"/>
<rect x="269" y="79" width="31" height="7" fill="#000"/>
<rect x="270" y="80" width="29" height="5" fill="#fff"/>
<rect x="302" y="79" width="16" height="7" fill="#000"/>
<rect x="303" y="80" width="14" height="5" fill="#fff"/>
<rect x="97" y="103" width="226" height="1" fill="#000"/>
<rect x="97" y="103" width="1" height="41" fill="#000"/>
<rect x="105" y="103" width="1" height="41" fill="#000"/>
<rect x="322" y="103" width="1" height="41" fill="#000"/>
<rect x="97" y="107" width="9" height="1" fill="#000"/>
<rect x="315" y="107" width="8" height="1" fill="#000"/>
<rect x="97" y="114" width="9" height="1" fill="#000"/>
<rect x="315" y="114" width="8" height="1" fill="#000"/>
<rect x="97" y="131" width="9" height="1" fill="#000"/>
<rect x="315" y="131" width="8" height="1" fill="#000"/>
<rect x="97" y="138" width="9" height="1" fill="#000"/>
<rect x="315" y="138" width="8" height="1" fill="#000"/>
<rect x="105" y="103" width="4" height="16" fill="#000"/>
<rect x="107" y="127" width="2" height="17" fill="#000"/>
<rect x="106" y="104" width="1" height="1" fill="#fff"/>
<rect x="106" y="127" width="1" height="1" fill="#fff"/>
<rect x="312" y="103" width="4" height="41" fill="#000"/>
<rect x="123" y="104" width="175" height="15" fill="#000"/>
<rect x="124" y="105" width="1" height="7" fill="#fff"/>
<rect x="123" y="104" width="1" height="1" fill="#fff"/>
<rect x="297" y="104" width="1" height="1" fill="#fff"/>
<rect x="123" y="113" width="1" height="6" fill="#fff"/>
<rect x="126" y="106" width="4" height="6" fill="#fff"/>
<rect x="127" y="114" width="1" height="4" fill="#fff"/>
<rect x="126" y="104" width="1" height="1" fill="#fff"/>
<rect x="129" y="104" width="1" height="1" fill="#fff"/>
<rect x="132" y="106" width="4" height="6" fill="#fff"/>
<rect x="134" y="114" width="1" height="4" fill="#fff"/>
<rect x="132" y="104" width="1" height="1" fill="#fff"/>
<rect x="135" y="104" width="1" height="1" fill="#fff"/>
<rect x="138" y="106" width="4" height="6" fill="#fff"/>
<rect x="139" y="114" width="1" height="4" fill="#fff"/>
<rect x="138" y="104" width="1" height="1" fill="#fff"/>
<rect x="141" y="104" width="1" height="1" fill="#fff"/>
<rect x="144" y="106" width="4" height="6" fill="#fff"/>
<rect x="146" y="114" width="1" height="4" fill="#fff"/>
<rect x="144" y="104" width="1" height="1" fill="#fff"/>
<rect x="147" y="104" width="1" height="1" fill="#fff"/>
<rect x="149" y="106" width="5" height="6" fill="#fff"/>
<rect x="151" y="105" width="1" height="13" fill="#fff"/>
<rect x="155" y="106" width="5" height="6" fill="#fff"/>
<rect x="157" y="105" width="1" height="13" fill="#fff"/>
<rect x="161" y="106" width="4" height="6" fill="#fff"/>
<rect x="162" y="114" width="1" height="4" fill="#fff"/>
<rect x="161" y="104" width="1" height="1" fill="#fff"/>
<rect x="164" y="104" width="1" height="1" fill="#fff"/>
<rect x="167" y="106" width="4" height="6" fill="#fff"/>
<rect x="169" y="114" width="1" height="4" fill="#fff"/>
<rect x="167" y="104" width="1" height="1" fill="#fff"/>
<rect x="170" y="104" width="1" height="1" fill="#fff"/>
<rect x="173" y="106" width="4" height="6" fill="#fff"/>
<rect x="174" y="114" width="1" height="4" fill="#fff"/>
<rect x="173" y="104" width="1" height="1" fill="#fff"/>
<rect x="176" y="104" width="1" height="1" fill="#fff"/>
<rect x="179" y="106" width="4" height="6" fill="#fff"/>
<rect x="181" y="114" width="1" height="4" fill="#fff"/>
<rect x="179" y="104" width="1" height="1" fill="#fff"/>
<rect x="182" y="104" width="1" height="1" fill="#fff"/>
<rect x="185" y="106" width="4" height="6" fill="#fff"/>
<rect x="186" y="114" width="1" height="4" fill="#fff"/>
<rect x="185" y="104" width="1" height="1" fill="#fff"/>
<rect x="188" y="104" width="1" height="1" fill="#fff"/>
<rect x="191" y="106" width="4" height="6" fill="#fff"/>
<rect x="193" y="114" width="1" height="4" fill="#fff"/>
<rect x="191" y="104" width="1" height="1" fill="#fff"/>
<rect x="194" y="104" width="1" height="1" fill="#fff"/>
<rect x="197" y="106" width="4" height="6" fill="#fff"/>
<rect x="198" y="114" width="1" height="4" fill="#fff"/>
<rect x="197" y="104" width="1" height="1" fill="#fff"/>
<rect x="200" y="104" width="1" height="1" fill="#fff"/>
<rect x="202" y="106" width="4" height="6" fill="#fff"/>
<rect x="204" y="114" width="1" height="4" fill="#fff"/>
<rect x="202" y="104" width="1" height="1" fill="#fff"/>
<rect x="205" y="104" width="1" height="1" fill="#fff"/>
<rect x="208" y="106" width="4" height="6" fill="#fff"/>
<rect x="209" y="114" width="1" height="4" fill="#fff"/>
<rect x="208" y="104" width="1" height="1" fill="#fff"/>
<rect x="211" y="104" width="1" height="1" fill="#fff"/>
<rect x="214" y="106" width="4" height="6" fill="#fff"/>
<rect x="216" y="114" width="1" height="4" fill="#fff"/>
<rect x="214" y="104" width="1" height="1" fill="#fff"/>
<rect x="217" y="104" width="1" height="1" fill="#fff"/>
<rect x="219" y="106" width="6" height="6" fill="#fff"/>
<rect x="222" y="105" width="1" height="13" fill="#fff"/>
<rect x="226" y="106" width="4" height="6" fill="#fff"/>
<rect x="228" y="114" width="1" height="4" fill="#fff"/>
<rect x="226" y="104" width="1" height="1" fill="#fff"/>
<rect x="229" y="104" width="1" height="1" fill="#fff"/>
<rect x="232" y="106" width="4" height="6" fill="#fff"/>
<rect x="233" y="114" width="1" height="4" fill="#fff"/>
<rect x="232" y="104" width="1" height="1" fill="#fff"/>
<rect x="235" y="104" width="1" height="1" fill="#fff"/>
<rect x="238" y="106" width="4" height="6" fill="#fff"/>
<rect x="240" y="114" width="1" height="4" fill="#fff"/>
<rect x="238" y="104" width="1" height="1" fill="#fff"/>
<rect x="241" y="104" width="1" height="1" fill="#fff"/>
<rect x="244" y="106" width="4" height="6" fill="#fff"/>
<rect x="245" y="114" width="1" height="4" fill="#fff"/>
<rect x="244" y="104" width="1" height="1" fill="#fff"/>
<rect x="247" y="104" width="1" height="1" fill="#fff"/>
<rect x="249" y="106" width="4" height="6" fill="#fff"/>
<rect x="251" y="114" width="1" height="4" fill="#fff"/>
<rect x="249" y="104" width="1" height="1" fill="#fff"/>
<rect x="252" y="104" width="1" height="1" fill="#fff"/>
<rect x="254" y="106" width="6" height="6" fill="#fff"/>
<rect x="257" y="105" width="1" height="13" fill="#fff"/>
<rect x="261" y="106" width="5" height="6" fill="#fff"/>
<rect x="263" y="105" width="1" height="13" fill="#fff"/>
<rect x="267" y="106" width="4" height="6" fill="#fff"/>
<rect x="268" y="114" width="1" height="4" fill="#fff"/>
<rect x="267" y="104" width="1" height="1" fill="#fff"/>
<rect x="270" y="104" width="1" height="1" fill="#fff"/>
<rect x="272" y="106" width="6" height="6" fill="#fff"/>
<rect x="275" y="105" width="1" height="13" fill="#fff"/>
<rect x="279" y="106" width="4" height="6" fill="#fff"/>
<rect x="280" y="114" width="1" height="4" fill="#fff"/>
<rect x="279" y="104" width="1" height="1" fill="#fff"/>
<rect x="282" y="104" width="1" height="1" fill="#fff"/>
<rect x="285" y="106" width="4" height="6" fill="#fff"/>
<rect x="287" y="114" width="1" height="4" fill="#fff"/>
<rect x="285" y="104" width="1" height="1" fill="#fff"/>
<rect x="288" y="104" width="1" height="1" fill="#fff"/>
<rect x="291" y="106" width="4" height="6" fill="#fff"/>
<rect x="292" y="114" width="1" height="4" fill="#fff"/>
<rect x="291" y="104" width="1" height="1" fill="#fff"/>
<rect x="294" y="104" width="1" height="1" fill="#fff"/>
<rect x="123" y="128" width="175" height="15" fill="#000"/>
<rect x="124" y="129" width="1" height="7" fill="#fff"/>
<rect x="123" y="128" width="1" height="1" fill="#fff"/>
<rect x="297" y="128" width="1" height="1" fill="#fff"/>
<rect x="123" y="137" width="1" height="6" fill="#fff"/>
<rect x="126" y="130" width="4" height="6" fill="#fff"/>
<rect x="127" y="138" width="1" height="4" fill="#fff"/>
<rect x="126" y="128" width="1" height="1" fill="#fff"/>
<rect x="129" y="128" width="1" height="1" fill="#fff"/>
<rect x="132" y="130" width="4" height="6" fill="#fff"/>
<rect x="134" y="138" width="1" height="4" fill="#fff"/>
<rect x="132" y="128" width="1" height="1" fill="#fff"/>
<rect x="135" y="128" width="1" height="1" fill="#fff"/>
<rect x="138" y="130" width="4" height="6" fill="#fff"/>
<rect x="139" y="138" width="1" height="4" fill="#fff"/>
<rect x="138" y="128" width="1" height="1" fill="#fff"/>
<rect x="141" y="128" width="1" height="1" fill="#fff"/>
<rect x="144" y="130" width="4" height="6" fill="#fff"/>
<rect x="146" y="138" width="1" height="4" fill="#fff"/>
<rect x="144" y="128" width="1" height="1" fill="#fff"/>
<rect x="147" y="128" width="1" height="1" fill="#fff"/>
<rect x="149" y="130" width="5" height="6" fill="#fff"/>
<rect x="151" y="129" width="1" height="13" fill="#fff"/>
<rect x="155" y="130" width="5" height="6" fill="#fff"/>
<rect x="157" y="129" width="1" height="13" fill="#fff"/>
<rect x="161" y="130" width="4" height="6" fill="#fff"/>
<rect x="162" y="138" width="1" height="4" fill="#fff"/>
<rect x="161" y="128" width="1" height="1" fill="#fff"/>
<rect x="164" y="128" width="1" height="1" fill="#fff"/>
<rect x="167" y="130" width="4" height="6" fill="#fff"/>
<rect x="169" y="138" width="1" height="4" fill="#fff"/>
<rect x="167" y="128" width="1" height="1" fill="#fff"/>
<rect x="170" y="128" width="1" height="1" fill="#fff"/>
<rect x="173" y="130" width="4" height="6" fill="#fff"/>
<rect x="174" y="138" width="1" height="4" fill="#fff"/>
<rect x="173" y="128" width="1" height="1" fill="#fff"/>
<rect x="176" y="128" width="1" height="1" fill="#fff"/>
<rect x="179" y="130" width="4" height="6" fill="#fff"/>
<rect x="181" y="138" width="1" height="4" fill="#fff"/>
<rect x="179" y="128" width="1" height="1" fill="#fff"/>
<rect x="182" y="128" width="1" height="1" fill="#fff"/>
<rect x="185" y="130" width="4" height="6" fill="#fff"/>
<rect x="186" y="138" width="1" height="4" fill="#fff"/>
<rect x="185" y="128" width="1" height="1" fill="#fff"/>
<rect x="188" y="128" width="1" height="1" fill="#fff"/>
<rect x="191" y="130" width="4" height="6" fill="#fff"/>
<rect x="193" y="138" width="1" height="4" fill="#fff"/>
<rect x="191" y="128" width="1" height="1" fill="#fff"/>
<rect x="194" y="128" width="1" height="1" fill="#fff"/>
<rect x="197" y="130" width="4" height="6" fill="#fff"/>
<rect x="198" y="138" width="1" height="4" fill="#fff"/>
<rect x="197" y="128" width="1" height="1" fill="#fff"/>
<rect x="200" y="128" width="1" height="1" fill="#fff"/>
<rect x="202" y="130" width="4" height="6" fill="#fff"/>
<rect x="204" y="138" width="1" height="4" fill="#fff"/>
<rect x="202" y="128" width="1" height="1" fill="#fff"/>
<rect x="205" y="128" width="1" height="1" fill="#fff"/>
<rect x="208" y="130" width="4" height="6" fill="#fff"/>
<rect x="209" y="138" width="1" height="4" fill="#fff"/>
<rect x="208" y="128" width="1" height="1" fill="#fff"/>
<rect x="211" y="128" width="1" height="1" fill="#fff"/>
<rect x="214" y="130" width="4" height="6" fill="#fff"/>
<rect x="216" y="138" width="1" height="4" fill="#fff"/>
<rect x="214" y="128" width="1" height="1" fill="#fff"/>
<rect x="217" y="128" width="1" height="1" fill="#fff"/>
<rect x="219" y="130" width="6" height="6" fill="#fff"/>
<rect x="222" y="129" width="1" height="13" fill="#fff"/>
<rect x="226" y="130" width="4" height="6" fill="#fff"/>
<rect x="228" y="138" width="1" height="4" fill="#fff"/>
<rect x="226" y="128" width="1" height="1" fill="#fff"/>
<rect x="229" y="128" width="1" height="1" fill="#fff"/>
<rect x="232" y="130" width="4" height="6" fill="#fff"/>
<rect x="233" y="138" width="1" height="4" fill="#fff"/>
<rect x="232" y="128" width="1" height="1" fill="#fff"/>
<rect x="235" y="128" width="1" height="1" fill="#fff"/>
<rect x="238" y="130" width="4" height="6" fill="#fff"/>
<rect x="240" y="138" width="1" height="4" fill="#fff"/>
<rect x="238" y="128" width="1" height="1" fill="#fff"/>
<rect x="241" y="128" width="1" height="1" fill="#fff"/>
<rect x="244" y="130" width="4" height="6" fill="#fff"/>
<rect x="245" y="138" width="1" height="4" fill="#fff"/>
<rect x="244" y="128" width="1" height="1" fill="#fff"/>
<rect x="247" y="128" width="1" height="1" fill="#fff"/>
<rect x="249" y="130" width="4" height="6" fill="#fff"/>
<rect x="251" y="138" width="1" height="4" fill="#fff"/>
<rect x="249" y="128" width="1" height="1" fill="#fff"/>
<rect x="252" y="128" width="1" height="1" fill="#fff"/>
<rect x="254" y="130" width="6" height="6" fill="#fff"/>
<rect x="257" y="129" width="1" height="13" fill="#fff"/>
<rect x="261" y="130" width="5" height="6" fill="#fff"/>
<rect x="263" y="129" width="1" height="13" fill="#fff"/>
<rect x="267" y="130" width="4" height="6" fill="#fff"/>
<rect x="268" y="138" width="1" height="4" fill="#fff"/>
<rect x="267" y="128" width="1" height="1" fill="#fff"/>
<rect x="270" y="128" width="1" height="1" fill="#fff"/>
<rect x="272" y="130" width="6" height="6" fill="#fff"/>
<rect x="275" y="129" width="1" height="13" fill="#fff"/>
<rect x="279" y="130" width="4" height="6" fill="#fff"/>
<rect x="280" y="138" width="1" height="4" fill="#fff"/>
<rect x="279" y="128" width="1" height="1" fill="#fff"/>
<rect x="282" y="128" width="1" height="1" fill="#fff"/>
<rect x="285" y="130" width="4" height="6" fill="#fff"/>
<rect x="287" y="138" width="1" height="4" fill="#fff"/>
<rect x="285" y="128" width="1" height="1" fill="#fff"/>
<rect x="288" y="128" width="1" height="1" fill="#fff"/>
<rect x="291" y="130" width="4" height="6" fill="#fff"/>
<rect x="292" y="138" width="1" height="4" fill="#fff"/>
<rect x="291" y="128" width="1" height="1" fill="#fff"/>
<rect x="294" y="128" width="1" height="1" fill="#fff"/>
<rect x="109" y="104" width="10" height="15" fill="#fff"/>
<rect x="109" y="104" width="10" height="1" fill="#000"/>
<rect x="118" y="104" width="1" height="10" fill="#000"/>
<rect x="116" y="113" width="3" height="1" fill="#000"/>
<rect x="116" y="111" width="1" height="8" fill="#000"/>
<rect x="111" y="111" width="6" height="1" fill="#000"/>
<rect x="111" y="111" width="1" height="4" fill="#000"/>
<rect x="109" y="114" width="3" height="1" fill="#000"/>
<rect x="109" y="118" width="8" height="1" fill="#000"/>
<rect x="117" y="114" width="2" height="5" fill="#fff"/>
<rect x="109" y="128" width="10" height="15" fill="#fff"/>
<rect x="109" y="128" width="10" height="1" fill="#000"/>
<rect x="118" y="128" width="1" height="10" fill="#000"/>
<rect x="116" y="137" width="3" height="1" fill="#000"/>
<rect x="116" y="135" width="1" height="8" fill="#000"/>
<rect x="111" y="135" width="6" height="1" fill="#000"/>
<rect x="111" y="135" width="1" height="4" fill="#000"/>
<rect x="109" y="138" width="3" height="1" fill="#000"/>
<rect x="109" y="142" width="8" height="1" fill="#000"/>
<rect x="117" y="138" width="2" height="5" fill="#fff"/>
<rect x="302" y="105" width="10" height="14" fill="#fff"/>
<rect x="302" y="105" width="10" height="1" fill="#000"/>
<rect x="302" y="105" width="1" height="10" fill="#000"/>
<rect x="302" y="114" width="4" height="1" fill="#000"/>
<rect x="305" y="112" width="1" height="7" fill="#000"/>
<rect x="305" y="112" width="5" height="1" fill="#000"/>
<rect x="309" y="112" width="1" height="4" fill="#000"/>
<rect x="309" y="115" width="3" height="1" fill="#000"/>
<rect x="305" y="118" width="7" height="1" fill="#000"/>
<rect x="302" y="115" width="3" height="4" fill="#fff"/>
<rect x="302" y="129" width="10" height="14" fill="#fff"/>
<rect x="302" y="129" width="10" height="1" fill="#000"/>
<rect x="302" y="129" width="1" height="10" fill="#000"/>
<rect x="302" y="138" width="4" height="1" fill="#000"/>
<rect x="305" y="136" width="1" height="7" fill="#000"/>
<rect x="305" y="136" width="5" height="1" fill="#000"/>
<rect x="309" y="136" width="1" height="4" fill="#000"/>
<rect x="309" y="139" width="3" height="1" fill="#000"/>
<rect x="305" y="142" width="7" height="1" fill="#000"/>
<rect x="302" y="139" width="3" height="4" fill="#fff"/>
<rect x="105" y="120" width="15" height="8" fill="#000"/>
<rect x="106" y="121" width="13" height="6" fill="#fff"/>
<rect x="123" y="120" width="31" height="8" fill="#000"/>
<rect x="124" y="121" width="29" height="6" fill="#fff"/>
<rect x="158" y="120" width="105" height="8" fill="#000"/>
<rect x="159" y="121" width="103" height="6" fill="#fff"/>
<rect x="269" y="120" width="31" height="8" fill="#000"/>
<rect x="270" y="121" width="29" height="6" fill="#fff"/>
<rect x="302" y="120" width="16" height="8" fill="#000"/>
<rect x="303" y="121" width="14" height="6" fill="#fff"/>
<rect x="97" y="144" width="226" height="1" fill="#000"/>
<rect x="97" y="144" width="1" height="42" fill="#000"/>
<rect x="105" y="144" width="1" height="42" fill="#000"/>
<rect x="322" y="144" width="1" height="42" fill="#000"/>
<rect x="97" y="148" width="9" height="1" fill="#000"/>
<rect x="315" y="148" width="8" height="1" fill="#000"/>
<rect x="97" y="155" width="9" height="1" fill="#000"/>
<rect x="315" y="155" width="8" height="1" fill="#000"/>
<rect x="97" y="172" width="9" height="1" fill="#000"/>
<rect x="315" y="172" width="8" height="1" fill="#000"/>
<rect x="97" y="179" width="9" height="1" fill="#000"/>
<rect x="315" y="179" width="8" height="1" fill="#000"/>
<rect x="105" y="144" width="4" height="17" fill="#000"/>
<rect x="107" y="169" width="2" height="17" fill="#000"/>
<rect x="106" y="146" width="1" height="1" fill="#fff"/>
<rect x="106" y="169" width="1" height="1" fill="#fff"/>
<rect x="312" y="144" width="4" height="42" fill="#000"/>
<rect x="123" y="146" width="175" height="14" fill="#000"/>
<rect x="124" y="147" width="1" height="7" fill="#fff"/>
<rect x="123" y="146" width="1" height="1" fill="#fff"/>
<rect x="297" y="146" width="1" height="1" fill="#fff"/>
<rect x="123" y="155" width="1" height="5" fill="#fff"/>
<rect x="126" y="148" width="4" height="6" fill="#fff"/>
<rect x="127" y="155" width="1" height="4" fill="#fff"/>
<rect x="126" y="146" width="1" height="1" fill="#fff"/>
<rect x="129" y="146" width="1" height="1" fill="#fff"/>
<rect x="132" y="148" width="4" height="6" fill="#fff"/>
<rect x="134" y="155" width="1" height="4" fill="#fff"/>
<rect x="132" y="146" width="1" height="1" fill="#fff"/>
<rect x="135" y="146" width="1" height="1" fill="#fff"/>
<rect x="138" y="148" width="4" height="6" fill="#fff"/>
<rect x="139" y="155" width="1" height="4" fill="#fff"/>
<rect x="138" y="146" width="1" height="1" fill="#fff"/>
<rect x="141" y="146" width="1" height="1" fill="#fff"/>
<rect x="144" y="148" width="4" height="6" fill="#fff"/>
<rect x="146" y="155" width="1" height="4" fill="#fff"/>
<rect x="144" y="146" width="1" height="1" fill="#fff"/>
<rect x="147" y="146" width="1" height="1" fill="#fff"/>
<rect x="149" y="148" width="5" height="6" fill="#fff"/>
<rect x="151" y="147" width="1" height="12" fill="#fff"/>
<rect x="155" y="148" width="5" height="6" fill="#fff"/>
<rect x="157" y="147" width="1" height="12" fill="#fff"/>
<rect x="161" y="148" width="4" height="6" fill="#fff"/>
<rect x="162" y="155" width="1" height="4" fill="#fff"/>
<rect x="161" y="146" width="1" height="1" fill="#fff"/>
<rect x="164" y="146" width="1" height="1" fill="#fff"/>
<rect x="167" y="148" width="4" height="6" fill="#fff"/>
<rect x="169" y="155" width="1" height="4" fill="#fff"/>
<rect x="167" y="146" width="1" height="1" fill="#fff"/>
<rect x="170" y="146" width="1" height="1" fill="#fff"/>
<rect x="173" y="148" width="4" height="6" fill="#fff"/>
<rect x="174" y="155" width="1" height="4" fill="#fff"/>
<rect x="173" y="146" width="1" height="1" fill="#fff"/>
<rect x="176" y="146" width="1" height="1" fill="#fff"/>
<rect x="179" y="148" width="4" height="6" fill="#fff"/>
<rect x="181" y="155" width="1" height="4" fill="#fff"/>
<rect x="179" y="146" width="1" height="1" fill="#fff"/>
<rect x="182" y="146" width="1" height="1" fill="#fff"/>
<rect x="185" y="148" width="4" height="6" fill="#fff"/>
<rect x="186" y="155" width="1" height="4" fill="#fff"/>
<rect x="185" y="146" width="1" height="1" fill="#fff"/>
<rect x="188" y="146" width="1" height="1" fill="#fff"/>
<rect x="191" y="148" width="4" height="6" fill="#fff"/>
<rect x="193" y="155" width="1" height="4" fill="#fff"/>
<rect x="191" y="146" width="1" height="1" fill="#fff"/>
<rect x="194" y="146" width="1" height="1" fill="#fff"/>
<rect x="197" y="148" width="4" height="6" fill="#fff"/>
<rect x="198" y="155" width="1" height="4" fill="#fff"/>
<rect x="197" y="146" width="1" height="1" fill="#fff"/>
<rect x="200" y="146" width="1" height="1" fill="#fff"/>
<rect x="202" y="148" width="4" height="6" fill="#fff"/>
<rect x="204" y="155" width="1" height="4" fill="#fff"/>
<rect x="202" y="146" width="1" height="1" fill="#fff"/>
<rect x="205" y="146" width="1" height="1" fill="#fff"/>
<rect x="208" y="148" width="4" height="6" fill="#fff"/>
<rect x="209" y="155" width="1" height="4" fill="#fff"/>
<rect x="208" y="146" width="1" height="1" fill="#fff"/>
<rect x="211" y="146" width="1" height="1" fill="#fff"/>
<rect x="214" y="148" width="4" height="6" fill="#fff"/>
<rect x="216" y="155" width="1" height="4" fill="#fff"/>
<rect x="214" y="146" width="1" height="1" fill="#fff"/>
<rect x="217" y="146" width="1" height="1" fill="#fff"/>
<rect x="219" y="148" width="6" height="6" fill="#fff"/>
<rect x="222" y="147" width="1" height="12" fill="#fff"/>
<rect x="226" y="148" width="4" height="6" fill="#fff"/>
<rect x="228" y="155" width="1" height="4" fill="#fff"/>
<rect x="226" y="146" width="1" height="1" fill="#fff"/>
<rect x="229" y="146" width="1" height="1" fill="#fff"/>
<rect x="232" y="148" width="4" height="6" fill="#fff"/>
<rect x="233" y="155" width="1" height="4" fill="#fff"/>
<rect x="232" y="146" width="1" height="1" fill="#fff"/>
<rect x="235" y="146" width="1" height="1" fill="#fff"/>
<rect x="238" y="148" width="4" height="6" fill="#fff"/>
<rect x="240" y="155" width="1" height="4" fill="#fff"/>
<rect x="238" y="146" width="1" height="1" fill="#fff"/>
<rect x="241" y="146" width="1" height="1" fill="#fff"/>
<rect x="244" y="148" width="4" height="6" fill="#fff"/>
<rect x="245" y="155" width="1" height="4" fill="#fff"/>
<rect x="244" y="146" width="1" height="1" fill="#fff"/>
<rect x="247" y="146" width="1" height="1" fill="#fff"/>
<rect x="249" y="148" width="4" height="6" fill="#fff"/>
<rect x="251" y="155" width="1" height="4" fill="#fff"/>
<rect x="249" y="146" width="1" height="1" fill="#fff"/>
<rect x="252" y="146" width="1" height="1" fill="#fff"/>
<rect x="254" y="148" width="6" height="6" fill="#fff"/>
<rect x="257" y="147" width="1" height="12" fill="#fff"/>
<rect x="261" y="148" width="5" height="6" fill="#fff"/>
<rect x="263" y="147" width="1" height="12" fill="#fff"/>
<rect x="267" y="148" width="4" height="6" fill="#fff"/>
<rect x="268" y="155" width="1" height="4" fill="#fff"/>
<rect x="267" y="146" width="1" height="1" fill="#fff"/>
<rect x="270" y="146" width="1" height="1" fill="#fff"/>
<rect x="272" y="148" width="6" height="6" fill="#fff"/>
<rect x="275" y="147" width="1" height="12" fill="#fff"/>
<rect x="279" y="148" width="4" height="6" fill="#fff"/>
<rect x="280" y="155" width="1" height="4" fill="#fff"/>
<rect x="279" y="146" width="1" height="1" fill="#fff"/>
<rect x="282" y="146" width="1" height="1" fill="#fff"/>
<rect x="285" y="148" width="4" height="6" fill="#fff"/>
<rect x="287" y="155" width="1" height="4" fill="#fff"/>
<rect x="285" y="146" width="1" height="1" fill="#fff"/>
<rect x="288" y="146" width="1" height="1" fill="#fff"/>
<rect x="291" y="148" width="4" height="6" fill="#fff"/>
<rect x="292" y="155" width="1" height="4" fill="#fff"/>
<rect x="291" y="146" width="1" height="1" fill="#fff"/>
<rect x="294" y="146" width="1" height="1" fill="#fff"/>
<rect x="123" y="170" width="175" height="14" fill="#000"/>
<rect x="124" y="171" width="1" height="7" fill="#fff"/>
<rect x="123" y="170" width="1" height="1" fill="#fff"/>
<rect x="297" y="170" width="1" height="1" fill="#fff"/>
<rect x="123" y="179" width="1" height="5" fill="#fff"/>
<rect x="126" y="172" width="4" height="6" fill="#fff"/>
<rect x="127" y="179" width="1" height="4" fill="#fff"/>
<rect x="126" y="170" width="1" height="1" fill="#fff"/>
<rect x="129" y="170" width="1" height="1" fill="#fff"/>
<rect x="132" y="172" width="4" height="6" fill="#fff"/>
<rect x="134" y="179" width="1" height="4" fill="#fff"/>
<rect x="132" y="170" width="1" height="1" fill="#fff"/>
<rect x="135" y="170" width="1" height="1" fill="#fff"/>
<rect x="138" y="172" width="4" height="6" fill="#fff"/>
<rect x="139" y="179" width="1" height="4" fill="#fff"/>
<rect x="138" y="170" width="1" height="1" fill="#fff"/>
<rect x="141" y="170" width="1" height="1" fill="#fff"/>
<rect x="144" y="172" width="4" height="6" fill="#fff"/>
<rect x="146" y="179" width="1" height="4" fill="#fff"/>
<rect x="144" y="170" width="1" height="1" fill="#fff"/>
<rect x="147" y="170" width="1" height="1" fill="#fff"/>
<rect x="149" y="172" width="5" height="6" fill="#fff"/>
<rect x="151" y="171" width="1" height="12" fill="#fff"/>
<rect x="155" y="172" width="5" height="6" fill="#fff"/>
<rect x="157" y="171" width="1" height="12" fill="#fff"/>
<rect x="161" y="172" width="4" height="6" fill="#fff"/>
<rect x="162" y="179" width="1" height="4" fill="#fff"/>
<rect x="161" y="170" width="1" height="1" fill="#fff"/>
<rect x="164" y="170" width="1" height="1" fill="#fff"/>
<rect x="167" y="172" width="4" height="6" fill="#fff"/>
<rect x="169" y="179" width="1" height="4" fill="#fff"/>
<rect x="167" y="170" width="1" height="1" fill="#fff"/>
<rect x="170" y="170" width="1" height="1" fill="#fff"/>
<rect x="173" y="172" width="4" height="6" fill="#fff"/>
<rect x="174" y="179" width="1" height="4" fill="#fff"/>
<rect x="173" y="170" width="1" height="1" fill="#fff"/>
<rect x="176" y="170" width="1" height="1" fill="#fff"/>
<rect x="179" y="172" width="4" height="6" fill="#fff"/>
<rect x="181" y="179" width="1" height="4" fill="#fff"/>
<rect x="179" y="170" width="1" height="1" fill="#fff"/>
<rect x="182" y="170" width="1" height="1" fill="#fff"/>
<rect x="185" y="172" width="4" height="6" fill="#fff"/>
<rect x="186" y="179" width="1" height="4" fill="#fff"/>
<rect x="185" y="170" width="1" height="1" fill="#fff"/>
<rect x="188" y="170" width="1" height="1" fill="#fff"/>
<rect x="191" y="172" width="4" height="6" fill="#fff"/>
<rect x="193" y="179" width="1" height="4" fill="#fff"/>
<rect x="191" y="170" width="1" height="1" fill="#fff"/>
<rect x="194" y="170" width="1" height="1" fill="#fff"/>
<rect x="197" y="172" width="4" height="6" fill="#fff"/>
<rect x="198" y="179" width="1" height="4" fill="#fff"/>
<rect x="197" y="170" width="1" height="1" fill="#fff"/>
<rect x="200" y="170" width="1" height="1" fill="#fff"/>
<rect x="202" y="172" width="4" height="6" fill="#fff"/>
<rect x="204" y="179" width="1" height="4" fill="#fff"/>
<rect x="202" y="170" width="1" height="1" fill="#fff"/>
<rect x="205" y="170" width="1" height="1" fill="#fff"/>
<rect x="208" y="172" width="4" height="6" fill="#fff"/>
<rect x="209" y="179" width="1" height="4" fill="#fff"/>
<rect x="208" y="170" width="1" height="1" fill="#fff"/>
<rect x="211" y="170" width="1" height="1" fill="#fff"/>
<rect x="214" y="172" width="4" height="6" fill="#fff"/>
<rect x="216" y="179" width="1" height="4" fill="#fff"/>
<rect x="214" y="170" width="1" height="1" fill="#fff"/>
<rect x="217" y="170" width="1" height="1" fill="#fff"/>
<rect x="219" y="172" width="6" height="6" fill="#fff"/>
<rect x="222" y="171" width="1" height="12" fill="#fff"/>
<rect x="226" y="172" width="4" height="6" fill="#fff"/>
<rect x="228" y="179" width="1" height="4" fill="#fff"/>
<rect x="226" y="170" width="1" height="1" fill="#fff"/>
<rect x="229" y="170" width="1" height="1" fill="#fff"/>
<rect x="232" y="172" width="4" height="6" fill="#fff"/>
<rect x="233" y="179" width="1" height="4" fill="#fff"/>
<rect x="232" y="170" width="1" height="1" fill="#fff"/>
<rect x="235" y="170" width="1" height="1" fill="#fff"/>
<rect x="238" y="172" width="4" height="6" fill="#fff"/>
<rect x="240" y="179" width="1" height="4" fill="#fff"/>
<rect x="238" y="170" width="1" height="1" fill="#fff"/>
<rect x="241" y="170" width="1" height="1" fill="#fff"/>
<rect x="244" y="172" width="4" height="6" fill="#fff"/>
<rect x="245" y="179" width="1" height="4" fill="#fff"/>
<rect x="244" y="170" width="1" height="1" fill="#fff"/>
<rect x="247" y="170" width="1" height="1" fill="#fff"/>
<rect x="249" y="172" width="4" height="6" fill="#fff"/>
<rect x="251" y="179" width="1" height="4" fill="#fff"/>
<rect x="249" y="170" width="1" height="1" fill="#fff"/>
<rect x="252" y="170" width="1" height="1" fill="#fff"/>
<rect x="254" y="172" width="6" height="6" fill="#fff"/>
<rect x="257" y="171" width="1" height="12" fill="#fff"/>
<rect x="261" y="172" width="5" height="6" fill="#fff"/>
<rect x="263" y="171" width="1" height="12" fill="#fff"/>
<rect x="267" y="172" width="4" height="6" fill="#fff"/>
<rect x="268" y="179" width="1" height="4" fill="#fff"/>
<rect x="267" y="170" width="1" height="1" fill="#fff"/>
<rect x="270" y="170" width="1" height="1" fill="#fff"/>
<rect x="272" y="172" width="6" height="6" fill="#fff"/>
<rect x="275" y="171" width="1" height="12" fill="#fff"/>
<rect x="279" y="172" width="4" height="6" fill="#fff"/>
<rect x="280" y="179" width="1" height="4" fill="#fff"/>
<rect x="279" y="170" width="1" height="1" fill="#fff"/>
<rect x="282" y="170" width="1" height="1" fill="#fff"/>
<rect x="285" y="172" width="4" height="6" fill="#fff"/>
<rect x="287" y="179" width="1" height="4" fill="#fff"/>
<rect x="285" y="170" width="1" height="1" fill="#fff"/>
<rect x="288" y="170" width="1" height="1" fill="#fff"/>
<rect x="291" y="172" width="4" height="6" fill="#fff"/>
<rect x="292" y="179" width="1" height="4" fill="#fff"/>
<rect x="291" y="170" width="1" height="1" fill="#fff"/>
<rect x="294" y="170" width="1" height="1" fill="#fff"/>
<rect x="109" y="146" width="10" height="15" fill="#fff"/>
<rect x="109" y="146" width="10" height="1" fill="#000"/>
<rect x="118" y="146" width="1" height="10" fill="#000"/>
<rect x="116" y="155" width="3" height="1" fill="#000"/>
<rect x="116" y="153" width="1" height="8" fill="#000"/>
<rect x="111" y="153" width="6" height="1" fill="#000"/>
<rect x="111" y="153" width="1" height="4" fill="#000"/>
<rect x="109" y="156" width="3" height="1" fill="#000"/>
<rect x="109" y="160" width="8" height="1" fill="#000"/>
<rect x="117" y="156" width="2" height="5" fill="#fff"/>
<rect x="109" y="170" width="10" height="15" fill="#fff"/>
<rect x="109" y="170" width="10" height="1" fill="#000"/>
<rect x="118" y="170" width="1" height="10" fill="#000"/>
<rect x="116" y="179" width="3" height="1" fill="#000"/>
<rect x="116" y="177" width="1" height="8" fill="#000"/>
<rect x="111" y="177" width="6" height="1" fill="#000"/>
<rect x="111" y="177" width="1" height="4" fill="#000"/>
<rect x="109" y="180" width="3" height="1" fill="#000"/>
<rect x="109" y="184" width="8" height="1" fill="#000"/>
<rect x="117" y="180" width="2" height="5" fill="#fff"/>
<rect x="302" y="147" width="10" height="14" fill="#fff"/>
<rect x="302" y="147" width="10" height="1" fill="#000"/>
<rect x="302" y="147" width="1" height="10" fill="#000"/>
<rect x="302" y="156" width="4" height="1" fill="#000"/>
<rect x="305" y="154" width="1" height="7" fill="#000"/>
<rect x="305" y="154" width="5" height="1" fill="#000"/>
<rect x="309" y="154" width="1" height="4" fill="#000"/>
<rect x="309" y="157" width="3" height="1" fill="#000"/>
<rect x="305" y="160" width="7" height="1" fill="#000"/>
<rect x="302" y="157" width="3" height="4" fill="#fff"/>
<rect x="302" y="171" width="10" height="14" fill="#fff"/>
<rect x="302" y="171" width="10" height="1" fill="#000"/>
<rect x="302" y="171" width="1" height="10" fill="#000"/>
<rect x="302" y="180" width="4" height="1" fill="#000"/>
<rect x="305" y="178" width="1" height="7" fill="#000"/>
<rect x="305" y="178" width="5" height="1" fill="#000"/>
<rect x="309" y="178" width="1" height="4" fill="#000"/>
<rect x="309" y="181" width="3" height="1" fill="#000"/>
<rect x="305" y="184" width="7" height="1" fill="#000"/>
<rect x="302" y="181" width="3" height="4" fill="#fff"/>
<rect x="105" y="162" width="15" height="7" fill="#000"/>
<rect x="106" y="163" width="13" height="5" fill="#fff"/>
<rect x="123" y="162" width="31" height="7" fill="#000"/>
<rect x="124" y="163" width="29" height="5" fill="#fff"/>
<rect x="158" y="162" width="105" height="7" fill="#000"/>
<rect x="159" y="163" width="103" height="5" fill="#fff"/>
<rect x="269" y="162" width="31" height="7" fill="#000"/>
<rect x="270" y="163" width="29" height="5" fill="#fff"/>
<rect x="302" y="162" width="16" height="7" fill="#000"/>
<rect x="303" y="163" width="14" height="5" fill="#fff"/>
<rect x="97" y="186" width="226" height="1" fill="#000"/>
<rect x="181" y="31" width="59" height="19" fill="#000"/>
<rect x="180" y="32" width="61" height="17" fill="#000"/>
<rect x="183" y="34" width="55" height="14" fill="#fff"/>
<rect x="181" y="72" width="59" height="19" fill="#000"/>
<rect x="180" y="73" width="61" height="17" fill="#000"/>
<rect x="183" y="75" width="55" height="15" fill="#fff"/>
<rect x="181" y="114" width="59" height="19" fill="#000"/>
<rect x="180" y="115" width="61" height="17" fill="#000"/>
<rect x="183" y="117" width="55" height="15" fill="#fff"/>
<rect x="181" y="156" width="59" height="19" fill="#000"/>
<rect x="180" y="157" width="61" height="17" fill="#000"/>
<rect x="183" y="159" width="55" height="15" fill="#fff"/>
<rect x="13" y="274" width="85" height="25" fill="#000"/>
<rect x="16" y="277" width="3" height="5" fill="#fff"/>
<rect x="16" y="292" width="3" height="5" fill="#fff"/>
<rect x="21" y="277" width="4" height="5" fill="#fff"/>
<rect x="21" y="292" width="4" height="5" fill="#fff"/>
<rect x="27" y="277" width="3" height="5" fill="#fff"/>
<rect x="27" y="292" width="3" height="5" fill="#fff"/>
<rect x="33" y="277" width="3" height="5" fill="#fff"/>
<rect x="33" y="292" width="3" height="5" fill="#fff"/>
<rect x="39" y="277" width="3" height="5" fill="#fff"/>
<rect x="39" y="292" width="3" height="5" fill="#fff"/>
<rect x="44" y="277" width="4" height="5" fill="#fff"/>
<rect x="44" y="292" width="4" height="5" fill="#fff"/>
<rect x="50" y="277" width="4" height="5" fill="#fff"/>
<rect x="50" y="292" width="4" height="5" fill="#fff"/>
<rect x="56" y="277" width="3" height="5" fill="#fff"/>
<rect x="56" y="292" width="3" height="5" fill="#fff"/>
<rect x="62" y="277" width="3" height="5" fill="#fff"/>
<rect x="62" y="292" width="3" height="5" fill="#fff"/>
<rect x="68" y="277" width="3" height="5" fill="#fff"/>
<rect x="68" y="292" width="3" height="5" fill="#fff"/>
<rect x="74" y="277" width="3" height="5" fill="#fff"/>
<rect x="74" y="292" width="3" height="5" fill="#fff"/>
<rect x="80" y="277" width="3" height="5" fill="#fff"/>
<rect x="80" y="292" width="3" height="5" fill="#fff"/>
<rect x="86" y="277" width="3" height="5" fill="#fff"/>
<rect x="86" y="292" width="3" height="5" fill="#fff"/>
<rect x="92" y="277" width="3" height="5" fill="#fff"/>
<rect x="92" y="292" width="3" height="5" fill="#fff"/>
<rect x="18" y="284" width="33" height="5" fill="#fff"/>
<rect x="56" y="284" width="34" height="5" fill="#fff"/>
<rect x="95" y="285" width="3" height="4" fill="#fff"/>
<rect x="13" y="303" width="85" height="25" fill="#000"/>
<rect x="16" y="306" width="3" height="5" fill="#fff"/>
<rect x="16" y="321" width="3" height="5" fill="#fff"/>
<rect x="21" y="306" width="4" height="5" fill="#fff"/>
<rect x="21" y="321" width="4" height="5" fill="#fff"/>
<rect x="27" y="306" width="3" height="5" fill="#fff"/>
<rect x="27" y="321" width="3" height="5" fill="#fff"/>
<rect x="33" y="306" width="3" height="5" fill="#fff"/>
<rect x="33" y="321" width="3" height="5" fill="#fff"/>
<rect x="39" y="306" width="3" height="5" fill="#fff"/>
<rect x="39" y="321" width="3" height="5" fill="#fff"/>
<rect x="44" y="306" width="4" height="5" fill="#fff"/>
<rect x="44" y="321" width="4" height="5" fill="#fff"/>
<rect x="50" y="306" width="4" height="5" fill="#fff"/>
<rect x="50" y="321" width="4" height="5" fill="#fff"/>
<rect x="56" y="306" width="3" height="5" fill="#fff"/>
<rect x="56" y="321" width="3" height="5" fill="#fff"/>
<rect x="62" y="306" width="3" height="5" fill="#fff"/>
<rect x="62" y="321" width="3" height="5" fill="#fff"/>
<rect x="68" y="306" width="3" height="5" fill="#fff"/>
<rect x="68" y="321" width="3" height="5" fill="#fff"/>
<rect x="74" y="306" width="3" height="5" fill="#fff"/>
<rect x="74" y="321" width="3" height="5" fill="#fff"/>
<rect x="80" y="306" width="3" height="5" fill="#fff"/>
<rect x="80" y="321" width="3" height="5" fill="#fff"/>
<rect x="86" y="306" width="3" height="5" fill="#fff"/>
<rect x="86" y="321" width="3" height="5" fill="#fff"/>
<rect x="92" y="306" width="3" height="5" fill="#fff"/>
<rect x="92" y="321" width="3" height="5" fill="#fff"/>
<rect x="18" y="313" width="33" height="5" fill="#fff"/>
<rect x="56" y="313" width="34" height="5" fill="#fff"/>
<rect x="95" y="314" width="3" height="4" fill="#fff"/>
<rect x="13" y="331" width="85" height="25" fill="#000"/>
<rect x="16" y="334" width="3" height="5" fill="#fff"/>
<rect x="16" y="349" width="3" height="5" fill="#fff"/>
<rect x="21" y="334" width="4" height="5" fill="#fff"/>
<rect x="21" y="349" width="4" height="5" fill="#fff"/>
<rect x="27" y="334" width="3" height="5" fill="#fff"/>
<rect x="27" y="349" width="3" height="5" fill="#fff"/>
<rect x="33" y="334" width="3" height="5" fill="#fff"/>
<rect x="33" y="349" width="3" height="5" fill="#fff"/>
<rect x="39" y="334" width="3" height="5" fill="#fff"/>
<rect x="39" y="349" width="3" height="5" fill="#fff"/>
<rect x="44" y="334" width="4" height="5" fill="#fff"/>
<rect x="44" y="349" width="4" height="5" fill="#fff"/>
<rect x="50" y="334" width="4" height="5" fill="#fff"/>
<rect x="50" y="349" width="4" height="5" fill="#fff"/>
<rect x="56" y="334" width="3" height="5" fill="#fff"/>
<rect x="56" y="349" width="3" height="5" fill="#fff"/>
<rect x="62" y="334" width="3" height="5" fill="#fff"/>
<rect x="62" y="349" width="3" height="5" fill="#fff"/>
<rect x="68" y="334" width="3" height="5" fill="#fff"/>
<rect x="68" y="349" width="3" height="5" fill="#fff"/>
<rect x="74" y="334" width="3" height="5" fill="#fff"/>
<rect x="74" y="349" width="3" height="5" fill="#fff"/>
<rect x="80" y="334" width="3" height="5" fill="#fff"/>
<rect x="80" y="349" width="3" height="5" fill="#fff"/>
<rect x="86" y="334" width="3" height="5" fill="#fff"/>
<rect x="86" y="349" width="3" height="5" fill="#fff"/>
<rect x="92" y="334" width="3" height="5" fill="#fff"/>
<rect x="92" y="349" width="3" height="5" fill="#fff"/>
<rect x="18" y="341" width="33" height="5" fill="#fff"/>
<rect x="56" y="341" width="34" height="5" fill="#fff"/>
<rect x="95" y="342" width="3" height="4" fill="#fff"/>
<rect x="13" y="360" width="85" height="25" fill="#000"/>
<rect x="16" y="363" width="3" height="5" fill="#fff"/>
<rect x="16" y="378" width="3" height="5" fill="#fff"/>
<rect x="21" y="363" width="4" height="5" fill="#fff"/>
<rect x="21" y="378" width="4" height="5" fill="#fff"/>
<rect x="27" y="363" width="3" height="5" fill="#fff"/>
<rect x="27" y="378" width="3" height="5" fill="#fff"/>
<rect x="33" y="363" width="3" height="5" fill="#fff"/>
<rect x="33" y="378" width="3" height="5" fill="#fff"/>
<rect x="39" y="363" width="3" height="5" fill="#fff"/>
<rect x="39" y="378" width="3" height="5" fill="#fff"/>
<rect x="44" y="363" width="4" height="5" fill="#fff"/>
<rect x="44" y="378" width="4" height="5" fill="#fff"/>
<rect x="50" y="363" width="4" height="5" fill="#fff"/>
<rect x="50" y="378" width="4" height="5" fill="#fff"/>
<rect x="56" y="363" width="3" height="5" fill="#fff"/>
<rect x="56" y="378" width="3" height="5" fill="#fff"/>
<rect x="62" y="363" width="3" height="5" fill="#fff"/>
<rect x="62" y="378" width="3" height="5" fill="#fff"/>
<rect x="68" y="363" width="3" height="5" fill="#fff"/>
<rect x="68" y="378" width="3" height="5" fill="#fff"/>
<rect x="74" y="363" width="3" height="5" fill="#fff"/>
<rect x="74" y="378" width="3" height="5" fill="#fff"/>
<rect x="80" y="363" width="3" height="5" fill="#fff"/>
<rect x="80" y="378" width="3" height="5" fill="#fff"/>
<rect x="86" y="363" width="3" height="5" fill="#fff"/>
<rect x="86" y="378" width="3" height="5" fill="#fff"/>
<rect x="92" y="363" width="3" height="5" fill="#fff"/>
<rect x="92" y="378" width="3" height="5" fill="#fff"/>
<rect x="18" y="370" width="33" height="5" fill="#fff"/>
<rect x="56" y="370" width="34" height="5" fill="#fff"/>
<rect x="95" y="371" width="3" height="4" fill="#fff"/>
<rect x="13" y="389" width="85" height="25" fill="#000"/>
<rect x="16" y="392" width="3" height="5" fill="#fff"/>
<rect x="16" y="407" width="3" height="5" fill="#fff"/>
<rect x="21" y="392" width="4" height="5" fill="#fff"/>
<rect x="21" y="407" width="4" height="5" fill="#fff"/>
<rect x="27" y="392" width="3" height="5" fill="#fff"/>
<rect x="27" y="407" width="3" height="5" fill="#fff"/>
<rect x="33" y="392" width="3" height="5" fill="#fff"/>
<rect x="33" y="407" width="3" height="5" fill="#fff"/>
<rect x="39" y="392" width="3" height="5" fill="#fff"/>
<rect x="39" y="407" width="3" height="5" fill="#fff"/>
<rect x="44" y="392" width="4" height="5" fill="#fff"/>
<rect x="44" y="407" width="4" height="5" fill="#fff"/>
<rect x="50" y="392" width="4" height="5" fill="#fff"/>
<rect x="50" y="407" width="4" height="5" fill="#fff"/>
<rect x="56" y="392" width="3" height="5" fill="#fff"/>
<rect x="56" y="407" width="3" height="5" fill="#fff"/>
<rect x="62" y="392" width="3" height="5" fill="#fff"/>
<rect x="62" y="407" width="3" height="5" fill="#fff"/>
<rect x="68" y="392" width="3" height="5" fill="#fff"/>
<rect x="68" y="407" width="3" height="5" fill="#fff"/>
<rect x="74" y="392" width="3" height="5" fill="#fff"/>
<rect x="74" y="407" width="3" height="5" fill="#fff"/>
<rect x="80" y="392" width="3" height="5" fill="#fff"/>
<rect x="80" y="407" width="3" height="5" fill="#fff"/>
<rect x="86" y="392" width="3" height="5" fill="#fff"/>
<rect x="86" y="407" width="3" height="5" fill="#fff"/>
<rect x="92" y="392" width="3" height="5" fill="#fff"/>
<rect x="92" y="407" width="3" height="5" fill="#fff"/>
<rect x="18" y="399" width="33" height="5" fill="#fff"/>
<rect x="56" y="399" width="34" height="5" fill="#fff"/>
<rect x="95" y="400" width="3" height="4" fill="#fff"/>
<rect x="13" y="418" width="85" height="25" fill="#000"/>
<rect x="16" y="421" width="3" height="5" fill="#fff"/>
<rect x="16" y="436" width="3" height="5" fill="#fff"/>
<rect x="21" y="421" width="4" height="5" fill="#fff"/>
<rect x="21" y="436" width="4" height="5" fill="#fff"/>
<rect x="27" y="421" width="3" height="5" fill="#fff"/>
<rect x="27" y="436" width="3" height="5" fill="#fff"/>
<rect x="33" y="421" width="3" height="5" fill="#fff"/>
<rect x="33" y="436" width="3" height="5" fill="#fff"/>
<rect x="39" y="421" width="3" height="5" fill="#fff"/>
<rect x="39" y="436" width="3" height="5" fill="#fff"/>
<rect x="44" y="421" width="4" height="5" fill="#fff"/>
<rect x="44" y="436" width="4" height="5" fill="#fff"/>
<rect x="50" y="421" width="4" height="5" fill="#fff"/>
<rect x="50" y="436" width="4" height="5" fill="#fff"/>
<rect x="56" y="421" width="3" height="5" fill="#fff"/>
<rect x="56" y="436" width="3" height="5" fill="#fff"/>
<rect x="62" y="421" width="3" height="5" fill="#fff"/>
<rect x="62" y="436" width="3" height="5" fill="#fff"/>
<rect x="68" y="421" width="3" height="5" fill="#fff"/>
<rect x="68" y="436" width="3" height="5" fill="#fff"/>
<rect x="74" y="421" width="3" height="5" fill="#fff"/>
<rect x="74" y="436" width="3" height="5" fill="#fff"/>
<rect x="80" y="421" width="3" height="5" fill="#fff"/>
<rect x="80" y="436" width="3" height="5" fill="#fff"/>
<rect x="86" y="421" width="3" height="5" fill="#fff"/>
<rect x="86" y="436" width="3" height="5" fill="#fff"/>
<rect x="92" y="421" width="3" height="5" fill="#fff"/>
<rect x="92" y="436" width="3" height="5" fill="#fff"/>
<rect x="18" y="428" width="33" height="5" fill="#fff"/>
<rect x="56" y="428" width="34" height="5" fill="#fff"/>
<rect x="95" y="429" width="3" height="4" fill="#fff"/>
<rect x="13" y="447" width="85" height="25" fill="#000"/>
<rect x="16" y="450" width="3" height="5" fill="#fff"/>
<rect x="16" y="465" width="3" height="5" fill="#fff"/>
<rect x="21" y="450" width="4" height="5" fill="#fff"/>
<rect x="21" y="465" width="4" height="5" fill="#fff"/>
<rect x="27" y="450" width="3" height="5" fill="#fff"/>
<rect x="27" y="465" width="3" height="5" fill="#fff"/>
<rect x="33" y="450" width="3" height="5" fill="#fff"/>
<rect x="33" y="465" width="3" height="5" fill="#fff"/>
<rect x="39" y="450" width="3" height="5" fill="#fff"/>
<rect x="39" y="465" width="3" height="5" fill="#fff"/>
<rect x="44" y="450" width="4" height="5" fill="#fff"/>
<rect x="44" y="465" width="4" height="5" fill="#fff"/>
<rect x="50" y="450" width="4" height="5" fill="#fff"/>
<rect x="50" y="465" width="4" height="5" fill="#fff"/>
<rect x="56" y="450" width="3" height="5" fill="#fff"/>
<rect x="56" y="465" width="3" height="5" fill="#fff"/>
<rect x="62" y="450" width="3" height="5" fill="#fff"/>
<rect x="62" y="465" width="3" height="5" fill="#fff"/>
<rect x="68" y="450" width="3" height="5" fill="#fff"/>
<rect x="68" y="465" width="3" height="5" fill="#fff"/>
<rect x="74" y="450" width="3" height="5" fill="#fff"/>
<rect x="74" y="465" width="3" height="5" fill="#fff"/>
<rect x="80" y="450" width="3" height="5" fill="#fff"/>
<rect x="80" y="465" width="3" height="5" fill="#fff"/>
<rect x="86" y="450" width="3" height="5" fill="#fff"/>
<rect x="86" y="465" width="3" height="5" fill="#fff"/>
<rect x="92" y="450" width="3" height="5" fill="#fff"/>
<rect x="92" y="465" width="3" height="5" fill="#fff"/>
<rect x="18" y="457" width="33" height="5" fill="#fff"/>
<rect x="56" y="457" width="34" height="5" fill="#fff"/>
<rect x="95" y="458" width="3" height="4" fill="#fff"/>
<rect x="13" y="475" width="85" height="25" fill="#000"/>
<rect x="16" y="478" width="3" height="5" fill="#fff"/>
<rect x="16" y="493" width="3" height="5" fill="#fff"/>
<rect x="21" y="478" width="4" height="5" fill="#fff"/>
<rect x="21" y="493" width="4" height="5" fill="#fff"/>
<rect x="27" y="478" width="3" height="5" fill="#fff"/>
<rect x="27" y="493" width="3" height="5" fill="#fff"/>
<rect x="33" y="478" width="3" height="5" fill="#fff"/>
<rect x="33" y="493" width="3" height="5" fill="#fff"/>
<rect x="39" y="478" width="3" height="5" fill="#fff"/>
<rect x="39" y="493" width="3" height="5" fill="#fff"/>
<rect x="44" y="478" width="4" height="5" fill="#fff"/>
<rect x="44" y="493" width="4" height="5" fill="#fff"/>
<rect x="50" y="478" width="4" height="5" fill="#fff"/>
<rect x="50" y="493" width="4" height="5" fill="#fff"/>
<rect x="56" y="478" width="3" height="5" fill="#fff"/>
<rect x="56" y="493" width="3" height="5" fill="#fff"/>
<rect x="62" y="478" width="3" height="5" fill="#fff"/>
<rect x="62" y="493" width="3" height="5" fill="#fff"/>
<rect x="68" y="478" width="3" height="5" fill="#fff"/>
<rect x="68" y="493" width="3" height="5" fill="#fff"/>
<rect x="74" y="478" width="3" height="5" fill="#fff"/>
<rect x="74" y="493" width="3" height="5" fill="#fff"/>
<rect x="80" y="478" width="3" height="5" fill="#fff"/>
<rect x="80" y="493" width="3" height="5" fill="#fff"/>
<rect x="86" y="478" width="3" height="5" fill="#fff"/>
<rect x="86" y="493" width="3" height="5" fill="#fff"/>
<rect x="92" y="478" width="3" height="5" fill="#fff"/>
<rect x="92" y="493" width="3" height="5" fill="#fff"/>
<rect x="18" y="485" width="33" height="5" fill="#fff"/>
<rect x="56" y="485" width="34" height="5" fill="#fff"/>
<rect x="95" y="486" width="3" height="4" fill="#fff"/>
<rect x="33" y="394" width="48" height="3" fill="#000"/>
<rect x="79" y="381" width="2" height="16" fill="#000"/>
<rect x="32" y="380" width="47" height="14" fill="#fff"/>
<rect x="31" y="381" width="1" height="12" fill="#fff"/>
<rect x="112" y="283" width="55" height="66" fill="#000"/>
<rect x="110" y="286" width="63" height="60" fill="#000"/>
<rect x="108" y="289" width="65" height="54" fill="#000"/>
<rect x="110" y="343" width="62" height="3" fill="#000"/>
<rect x="114" y="346" width="56" height="3" fill="#000"/>
<rect x="119" y="283" width="1" height="3" fill="#fff"/>
<rect x="122" y="283" width="1" height="3" fill="#fff"/>
<rect x="125" y="283" width="1" height="3" fill="#fff"/>
<rect x="133" y="283" width="1" height="3" fill="#fff"/>
<rect x="136" y="283" width="1" height="3" fill="#fff"/>
<rect x="139" y="283" width="1" height="3" fill="#fff"/>
<rect x="150" y="283" width="1" height="3" fill="#fff"/>
<rect x="153" y="283" width="1" height="3" fill="#fff"/>
<rect x="156" y="283" width="1" height="3" fill="#fff"/>
<rect x="124" y="346" width="1" height="3" fill="#fff"/>
<rect x="127" y="346" width="1" height="3" fill="#fff"/>
<rect x="130" y="346" width="1" height="3" fill="#fff"/>
<rect x="138" y="346" width="1" height="3" fill="#fff"/>
<rect x="141" y="346" width="1" height="3" fill="#fff"/>
<rect x="144" y="346" width="1" height="3" fill="#fff"/>
<rect x="155" y="346" width="1" height="3" fill="#fff"/>
<rect x="158" y="346" width="1" height="3" fill="#fff"/>
<rect x="161" y="346" width="1" height="3" fill="#fff"/>
<rect x="108" y="290" width="3" height="1" fill="#fff"/>
<rect x="108" y="293" width="3" height="1" fill="#fff"/>
<rect x="108" y="305" width="3" height="1" fill="#fff"/>
<rect x="108" y="308" width="3" height="1" fill="#fff"/>
<rect x="108" y="311" width="3" height="1" fill="#fff"/>
<rect x="108" y="322" width="3" height="1" fill="#fff"/>
<rect x="108" y="325" width="3" height="1" fill="#fff"/>
<rect x="108" y="329" width="3" height="1" fill="#fff"/>
<rect x="108" y="342" width="3" height="1" fill="#fff"/>
<rect x="108" y="345" width="3" height="1" fill="#fff"/>
<rect x="170" y="291" width="3" height="1" fill="#fff"/>
<rect x="170" y="294" width="3" height="1" fill="#fff"/>
<rect x="170" y="297" width="3" height="1" fill="#fff"/>
<rect x="170" y="300" width="3" height="1" fill="#fff"/>
<rect x="170" y="311" width="3" height="1" fill="#fff"/>
<rect x="170" y="314" width="3" height="1" fill="#fff"/>
<rect x="170" y="317" width="3" height="1" fill="#fff"/>
<rect x="170" y="328" width="3" height="1" fill="#fff"/>
<rect x="170" y="331" width="3" height="1" fill="#fff"/>
<rect x="170" y="334" width="3" height="1" fill="#fff"/>
<circle cx="117.5" cy="292.5" r="2.5" fill="#fff"/>
<rect x="272" y="344" width="57" height="66" fill="#000"/>
<rect x="270" y="347" width="65" height="60" fill="#000"/>
<rect x="268" y="350" width="67" height="54" fill="#000"/>
<rect x="270" y="404" width="64" height="3" fill="#000"/>
<rect x="274" y="407" width="58" height="3" fill="#000"/>
<rect x="278" y="344" width="1" height="3" fill="#fff"/>
<rect x="281" y="344" width="1" height="3" fill="#fff"/>
<rect x="284" y="344" width="1" height="3" fill="#fff"/>
<rect x="295" y="344" width="1" height="3" fill="#fff"/>
<rect x="298" y="344" width="1" height="3" fill="#fff"/>
<rect x="301" y="344" width="1" height="3" fill="#fff"/>
<rect x="309" y="344" width="1" height="3" fill="#fff"/>
<rect x="312" y="344" width="1" height="3" fill="#fff"/>
<rect x="315" y="344" width="1" height="3" fill="#fff"/>
<rect x="326" y="344" width="1" height="3" fill="#fff"/>
<rect x="283" y="407" width="1" height="3" fill="#fff"/>
<rect x="286" y="407" width="1" height="3" fill="#fff"/>
<rect x="289" y="407" width="1" height="3" fill="#fff"/>
<rect x="300" y="407" width="1" height="3" fill="#fff"/>
<rect x="303" y="407" width="1" height="3" fill="#fff"/>
<rect x="306" y="407" width="1" height="3" fill="#fff"/>
<rect x="314" y="407" width="1" height="3" fill="#fff"/>
<rect x="317" y="407" width="1" height="3" fill="#fff"/>
<rect x="320" y="407" width="1" height="3" fill="#fff"/>
<rect x="323" y="407" width="1" height="3" fill="#fff"/>
<rect x="268" y="350" width="3" height="1" fill="#fff"/>
<rect x="268" y="353" width="3" height="1" fill="#fff"/>
<rect x="268" y="356" width="3" height="1" fill="#fff"/>
<rect x="268" y="358" width="3" height="1" fill="#fff"/>
<rect x="268" y="369" width="3" height="1" fill="#fff"/>
<rect x="268" y="372" width="3" height="1" fill="#fff"/>
<rect x="268" y="375" width="3" height="1" fill="#fff"/>
<rect x="268" y="386" width="3" height="1" fill="#fff"/>
<rect x="268" y="389" width="3" height="1" fill="#fff"/>
<rect x="268" y="392" width="3" height="1" fill="#fff"/>
<rect x="332" y="355" width="3" height="1" fill="#fff"/>
<rect x="332" y="359" width="3" height="1" fill="#fff"/>
<rect x="332" y="362" width="3" height="1" fill="#fff"/>
<rect x="332" y="376" width="3" height="1" fill="#fff"/>
<rect x="332" y="379" width="3" height="1" fill="#fff"/>
<rect x="332" y="392" width="3" height="1" fill="#fff"/>
<rect x="332" y="396" width="3" height="1" fill="#fff"/>
<rect x="332" y="399" width="3" height="1" fill="#fff"/>
<circle cx="279" cy="353.5" r="2.5" fill="#fff"/>
<rect x="118" y="423" width="45" height="44" fill="#000"/>
<rect x="122" y="419" width="1" height="53" fill="#000"/>
<rect x="125" y="419" width="1" height="53" fill="#000"/>
<rect x="127" y="419" width="1" height="53" fill="#000"/>
<rect x="130" y="419" width="1" height="53" fill="#000"/>
<rect x="132" y="419" width="1" height="53" fill="#000"/>
<rect x="135" y="419" width="1" height="53" fill="#000"/>
<rect x="137" y="419" width="1" height="53" fill="#000"/>
<rect x="140" y="419" width="1" height="53" fill="#000"/>
<rect x="142" y="419" width="1" height="53" fill="#000"/>
<rect x="145" y="419" width="1" height="53" fill="#000"/>
<rect x="147" y="419" width="1" height="53" fill="#000"/>
<rect x="150" y="419" width="1" height="53" fill="#000"/>
<rect x="152" y="419" width="1" height="53" fill="#000"/>
<rect x="155" y="419" width="1" height="53" fill="#000"/>
<rect x="157" y="419" width="1" height="53" fill="#000"/>
<rect x="113" y="427" width="55" height="1" fill="#000"/>
<rect x="113" y="430" width="55" height="1" fill="#000"/>
<rect x="113" y="432" width="55" height="1" fill="#000"/>
<rect x="113" y="435" width="55" height="1" fill="#000"/>
<rect x="113" y="437" width="55" height="1" fill="#000"/>
<rect x="113" y="440" width="55" height="1" fill="#000"/>
<rect x="113" y="442" width="55" height="1" fill="#000"/>
<rect x="113" y="445" width="55" height="1" fill="#000"/>
<rect x="113" y="447" width="55" height="1" fill="#000"/>
<rect x="113" y="450" width="55" height="1" fill="#000"/>
<rect x="113" y="452" width="55" height="1" fill="#000"/>
<rect x="113" y="455" width="55" height="1" fill="#000"/>
<rect x="113" y="457" width="55" height="1" fill="#000"/>
<rect x="113" y="460" width="55" height="1" fill="#000"/>
<rect x="113" y="462" width="55" height="1" fill="#000"/>
<rect x="113" y="465" width="55" height="1" fill="#000"/>
<line x1="115.8" y1="421.2" x2="120.8" y2="426.2" stroke="#000" stroke-width="4.6" stroke-linecap="round" shape-rendering="auto"/>
<line x1="165.2" y1="421.2" x2="160.2" y2="426.2" stroke="#000" stroke-width="4.6" stroke-linecap="round" shape-rendering="auto"/>
<line x1="115.8" y1="469.8" x2="120.8" y2="464.8" stroke="#000" stroke-width="4.6" stroke-linecap="round" shape-rendering="auto"/>
<line x1="165.2" y1="469.8" x2="160.2" y2="464.8" stroke="#000" stroke-width="4.6" stroke-linecap="round" shape-rendering="auto"/>
<circle cx="124" cy="460.6" r="2.8" fill="#fff"/>
<rect x="126" y="438" width="29" height="15" rx="2.5" fill="#fff"/>
<rect x="193" y="433" width="60" height="60" fill="#000"/>
<rect x="194" y="434" width="58" height="58" fill="#fff"/>
<rect x="251" y="433" width="2" height="60" fill="#000"/>
<rect x="193" y="491" width="60" height="2" fill="#000"/>
<rect x="193" y="433" width="2" height="60" fill="#000"/>
<rect x="193" y="433" width="7" height="6" fill="#000"/>
<rect x="193" y="433" width="5" height="8" fill="#000"/>
<rect x="246" y="433" width="7" height="6" fill="#000"/>
<rect x="248" y="433" width="5" height="8" fill="#000"/>
<rect x="246" y="486" width="7" height="7" fill="#000"/>
<rect x="248" y="484" width="5" height="9" fill="#000"/>
<rect x="207" y="434" width="1" height="5" fill="#000"/>
<rect x="227" y="434" width="1" height="5" fill="#000"/>
<rect x="220" y="486" width="1" height="6" fill="#000"/>
<rect x="229" y="486" width="1" height="6" fill="#000"/>
<rect x="194" y="451" width="5" height="1" fill="#000"/>
<rect x="246" y="451" width="6" height="1" fill="#000"/>
<rect x="194" y="471" width="5" height="1" fill="#000"/>
<rect x="246" y="471" width="6" height="1" fill="#000"/>
<rect x="194" y="480" width="5" height="1" fill="#000"/>
<rect x="246" y="480" width="6" height="1" fill="#000"/>
<polygon points="192,486 194,486 200,494 192,494" fill="#fff"/>
<path d="M193.5,486 L199,492.5" stroke="#000" stroke-width="1" fill="none"/>
<circle cx="197.5" cy="488" r="2" fill="#fff" stroke="#000" stroke-width="1" shape-rendering="auto"/>
<rect x="422" y="311" width="101" height="13" fill="#000"/>
<rect x="423" y="312" width="99" height="11" fill="#fff"/>
<rect x="423" y="313" width="4" height="4" fill="#000"/>
<rect x="423" y="318" width="4" height="4" fill="#000"/>
<rect x="429" y="313" width="4" height="4" fill="#000"/>
<rect x="429" y="318" width="4" height="4" fill="#000"/>
<rect x="435" y="313" width="4" height="4" fill="#000"/>
<rect x="435" y="318" width="4" height="4" fill="#000"/>
<rect x="441" y="313" width="4" height="4" fill="#000"/>
<rect x="441" y="318" width="4" height="4" fill="#000"/>
<rect x="447" y="313" width="4" height="4" fill="#000"/>
<rect x="447" y="318" width="4" height="4" fill="#000"/>
<rect x="453" y="313" width="4" height="4" fill="#000"/>
<rect x="453" y="318" width="4" height="4" fill="#000"/>
<rect x="458" y="313" width="4" height="4" fill="#000"/>
<rect x="458" y="318" width="4" height="4" fill="#000"/>
<rect x="464" y="313" width="4" height="4" fill="#000"/>
<rect x="464" y="318" width="4" height="4" fill="#000"/>
<rect x="470" y="313" width="4" height="4" fill="#000"/>
<rect x="470" y="318" width="4" height="4" fill="#000"/>
<rect x="476" y="313" width="4" height="4" fill="#000"/>
<rect x="476" y="318" width="4" height="4" fill="#000"/>
<rect x="482" y="313" width="4" height="4" fill="#000"/>
<rect x="482" y="318" width="4" height="4" fill="#000"/>
<rect x="488" y="313" width="4" height="4" fill="#000"/>
<rect x="488" y="318" width="4" height="4" fill="#000"/>
<rect x="494" y="313" width="4" height="4" fill="#000"/>
<rect x="494" y="318" width="4" height="4" fill="#000"/>
<rect x="500" y="313" width="4" height="4" fill="#000"/>
<rect x="500" y="318" width="4" height="4" fill="#000"/>
<rect x="506" y="313" width="4" height="4" fill="#000"/>
<rect x="506" y="318" width="4" height="4" fill="#000"/>
<rect x="511" y="313" width="4" height="4" fill="#000"/>
<rect x="511" y="318" width="4" height="4" fill="#000"/>
<rect x="517" y="313" width="4" height="4" fill="#000"/>
<rect x="517" y="318" width="4" height="4" fill="#000"/>
<rect x="424" y="319" width="2" height="2" fill="#fff"/>
<rect x="385" y="446" width="78" height="13" fill="#000"/>
<rect x="386" y="447" width="76" height="11" fill="#fff"/>
<rect x="387" y="448" width="4" height="4" fill="#000"/>
<rect x="387" y="454" width="4" height="4" fill="#000"/>
<rect x="393" y="448" width="4" height="4" fill="#000"/>
<rect x="393" y="454" width="4" height="4" fill="#000"/>
<rect x="399" y="448" width="4" height="4" fill="#000"/>
<rect x="399" y="454" width="4" height="4" fill="#000"/>
<rect x="405" y="448" width="4" height="4" fill="#000"/>
<rect x="405" y="454" width="4" height="4" fill="#000"/>
<rect x="411" y="448" width="4" height="4" fill="#000"/>
<rect x="411" y="454" width="4" height="4" fill="#000"/>
<rect x="416" y="448" width="4" height="4" fill="#000"/>
<rect x="416" y="454" width="4" height="4" fill="#000"/>
<rect x="422" y="448" width="4" height="4" fill="#000"/>
<rect x="422" y="454" width="4" height="4" fill="#000"/>
<rect x="428" y="448" width="4" height="4" fill="#000"/>
<rect x="428" y="454" width="4" height="4" fill="#000"/>
<rect x="434" y="448" width="4" height="4" fill="#000"/>
<rect x="434" y="454" width="4" height="4" fill="#000"/>
<rect x="440" y="448" width="4" height="4" fill="#000"/>
<rect x="440" y="454" width="4" height="4" fill="#000"/>
<rect x="446" y="448" width="4" height="4" fill="#000"/>
<rect x="446" y="454" width="4" height="4" fill="#000"/>
<rect x="452" y="448" width="4" height="4" fill="#000"/>
<rect x="452" y="454" width="4" height="4" fill="#000"/>
<rect x="458" y="448" width="3" height="4" fill="#000"/>
<rect x="458" y="454" width="3" height="4" fill="#000"/>
<rect x="388" y="455" width="2" height="2" fill="#fff"/>
<rect x="385" y="471" width="119" height="13" fill="#000"/>
<rect x="386" y="472" width="117" height="11" fill="#fff"/>
<rect x="385" y="471" width="6" height="6" fill="#000"/>
<rect x="387" y="478" width="4" height="4" fill="#000"/>
<rect x="392" y="471" width="5" height="6" fill="#000"/>
<rect x="393" y="478" width="4" height="4" fill="#000"/>
<rect x="398" y="471" width="5" height="6" fill="#000"/>
<rect x="399" y="478" width="4" height="4" fill="#000"/>
<rect x="404" y="471" width="5" height="6" fill="#000"/>
<rect x="405" y="478" width="4" height="4" fill="#000"/>
<rect x="410" y="471" width="4" height="6" fill="#000"/>
<rect x="411" y="478" width="4" height="4" fill="#000"/>
<rect x="415" y="471" width="5" height="6" fill="#000"/>
<rect x="416" y="478" width="4" height="4" fill="#000"/>
<rect x="421" y="471" width="5" height="6" fill="#000"/>
<rect x="422" y="478" width="4" height="4" fill="#000"/>
<rect x="427" y="471" width="5" height="6" fill="#000"/>
<rect x="428" y="478" width="4" height="4" fill="#000"/>
<rect x="433" y="471" width="5" height="6" fill="#000"/>
<rect x="434" y="478" width="4" height="4" fill="#000"/>
<rect x="439" y="471" width="5" height="6" fill="#000"/>
<rect x="440" y="478" width="4" height="4" fill="#000"/>
<rect x="445" y="471" width="5" height="6" fill="#000"/>
<rect x="446" y="478" width="4" height="4" fill="#000"/>
<rect x="451" y="471" width="5" height="6" fill="#000"/>
<rect x="452" y="478" width="4" height="4" fill="#000"/>
<rect x="457" y="471" width="4" height="6" fill="#000"/>
<rect x="458" y="478" width="4" height="4" fill="#000"/>
<rect x="462" y="471" width="5" height="6" fill="#000"/>
<rect x="463" y="478" width="4" height="4" fill="#000"/>
<rect x="468" y="471" width="5" height="6" fill="#000"/>
<rect x="469" y="478" width="4" height="4" fill="#000"/>
<rect x="474" y="471" width="5" height="6" fill="#000"/>
<rect x="475" y="478" width="4" height="4" fill="#000"/>
<rect x="480" y="471" width="5" height="6" fill="#000"/>
<rect x="481" y="478" width="4" height="4" fill="#000"/>
<rect x="486" y="471" width="5" height="6" fill="#000"/>
<rect x="487" y="478" width="4" height="4" fill="#000"/>
<rect x="492" y="471" width="5" height="6" fill="#000"/>
<rect x="493" y="478" width="4" height="4" fill="#000"/>
<rect x="498" y="471" width="4" height="6" fill="#000"/>
<rect x="499" y="478" width="3" height="4" fill="#000"/>
<rect x="388" y="479" width="2" height="2" fill="#fff"/>
<rect x="517" y="453" width="48" height="13" fill="#000"/>
<rect x="518" y="454" width="46" height="1" fill="#fff"/>
<rect x="518" y="459" width="46" height="1" fill="#fff"/>
<rect x="518" y="454" width="1" height="11" fill="#fff"/>
<rect x="523" y="455" width="2" height="10" fill="#fff"/>
<rect x="529" y="455" width="1" height="10" fill="#fff"/>
<rect x="535" y="455" width="1" height="10" fill="#fff"/>
<rect x="541" y="455" width="1" height="10" fill="#fff"/>
<rect x="546" y="455" width="2" height="10" fill="#fff"/>
<rect x="552" y="455" width="1" height="10" fill="#fff"/>
<rect x="558" y="455" width="1" height="10" fill="#fff"/>
<rect x="520" y="461" width="2" height="3" fill="#fff"/>
<rect x="695" y="391" width="32" height="12" fill="#000"/>
<rect x="696" y="392" width="1" height="10" fill="#fff"/>
<rect x="725" y="392" width="1" height="10" fill="#fff"/>
<rect x="702" y="392" width="1" height="10" fill="#fff"/>
<rect x="708" y="392" width="1" height="10" fill="#fff"/>
<rect x="713" y="392" width="1" height="10" fill="#fff"/>
<rect x="719" y="392" width="1" height="10" fill="#fff"/>
<rect x="696" y="397" width="30" height="1" fill="#fff"/>
<rect x="698" y="399" width="2" height="2" fill="#fff"/>
<rect x="695" y="409" width="32" height="12" fill="#000"/>
<rect x="696" y="410" width="1" height="10" fill="#fff"/>
<rect x="725" y="410" width="1" height="10" fill="#fff"/>
<rect x="702" y="410" width="1" height="10" fill="#fff"/>
<rect x="708" y="410" width="1" height="10" fill="#fff"/>
<rect x="713" y="410" width="1" height="10" fill="#fff"/>
<rect x="719" y="410" width="1" height="10" fill="#fff"/>
<rect x="696" y="415" width="30" height="1" fill="#fff"/>
<rect x="698" y="417" width="2" height="2" fill="#fff"/>
<rect x="696" y="439" width="12" height="32" fill="#000"/>
<rect x="697" y="440" width="10" height="1" fill="#fff"/>
<rect x="697" y="446" width="10" height="1" fill="#fff"/>
<rect x="697" y="452" width="10" height="1" fill="#fff"/>
<rect x="697" y="457" width="10" height="1" fill="#fff"/>
<rect x="697" y="463" width="10" height="1" fill="#fff"/>
<rect x="702" y="440" width="1" height="30" fill="#fff"/>
<rect x="697" y="469" width="10" height="1" fill="#fff"/>
<rect x="697" y="441" width="1" height="5" fill="#fff"/>
<rect x="697" y="441" width="5" height="1" fill="#fff"/>
<rect x="699" y="443" width="2" height="2" fill="#fff"/>
<rect x="41" y="50" width="26" height="7" fill="#000"/>
<rect x="42" y="51" width="24" height="5" fill="#fff"/>
<rect x="43" y="51" width="4" height="4" fill="#000"/>
<rect x="49" y="51" width="4" height="4" fill="#000"/>
<rect x="55" y="51" width="4" height="4" fill="#000"/>
<rect x="60" y="51" width="5" height="4" fill="#000"/>
<rect x="61" y="52" width="3" height="2" fill="#fff"/>
<rect x="41" y="88" width="26" height="6" fill="#000"/>
<rect x="42" y="89" width="24" height="4" fill="#fff"/>
<rect x="43" y="89" width="4" height="4" fill="#000"/>
<rect x="49" y="89" width="4" height="4" fill="#000"/>
<rect x="55" y="89" width="4" height="4" fill="#000"/>
<rect x="60" y="89" width="5" height="4" fill="#000"/>
<rect x="61" y="90" width="3" height="2" fill="#fff"/>
<rect x="62" y="90" width="2" height="2" fill="#000"/>
<rect x="61" y="90" width="1" height="2" fill="#fff"/>
<rect x="41" y="130" width="26" height="7" fill="#000"/>
<rect x="42" y="131" width="24" height="5" fill="#fff"/>
<rect x="43" y="131" width="4" height="5" fill="#000"/>
<rect x="49" y="131" width="4" height="5" fill="#000"/>
<rect x="55" y="131" width="4" height="5" fill="#000"/>
<rect x="60" y="131" width="5" height="5" fill="#000"/>
<rect x="61" y="132" width="3" height="3" fill="#fff"/>
<rect x="62" y="132" width="2" height="3" fill="#000"/>
<rect x="61" y="132" width="1" height="3" fill="#fff"/>
<rect x="8" y="147" width="26" height="6" fill="#000"/>
<rect x="9" y="148" width="24" height="4" fill="#fff"/>
<rect x="8" y="147" width="19" height="6" fill="#000"/>
<rect x="14" y="148" width="1" height="4" fill="#fff"/>
<rect x="20" y="148" width="1" height="4" fill="#fff"/>
<rect x="25" y="148" width="2" height="4" fill="#fff"/>
<rect x="27" y="148" width="5" height="4" fill="#000"/>
<rect x="28" y="149" width="3" height="2" fill="#fff"/>
<rect x="29" y="149" width="2" height="2" fill="#000"/>
<rect x="28" y="149" width="1" height="2" fill="#fff"/>
<rect x="701" y="377" width="26" height="6" fill="#000"/>
<rect x="702" y="378" width="24" height="4" fill="#fff"/>
<rect x="701" y="377" width="19" height="6" fill="#000"/>
<rect x="707" y="378" width="1" height="4" fill="#fff"/>
<rect x="713" y="378" width="1" height="4" fill="#fff"/>
<rect x="718" y="378" width="2" height="4" fill="#fff"/>
<rect x="720" y="378" width="5" height="4" fill="#000"/>
<rect x="721" y="379" width="3" height="2" fill="#fff"/>
<rect x="722" y="379" width="2" height="2" fill="#000"/>
<rect x="721" y="379" width="1" height="2" fill="#fff"/>
<rect x="74" y="50" width="14" height="7" fill="#000"/>
<rect x="75" y="51" width="1" height="5" fill="#fff"/>
<rect x="81" y="51" width="1" height="5" fill="#fff"/>
<rect x="86" y="51" width="1" height="5" fill="#fff"/>
<rect x="8" y="130" width="13" height="7" fill="#000"/>
<rect x="9" y="131" width="11" height="1" fill="#fff"/>
<rect x="14" y="132" width="1" height="4" fill="#fff"/>
<rect x="74" y="131" width="14" height="7" fill="#000"/>
<rect x="75" y="132" width="12" height="5" fill="#fff"/>
<rect x="76" y="132" width="10" height="4" fill="#000"/>
<rect x="80" y="132" width="2" height="4" fill="#fff"/>
<rect x="601" y="322" width="14" height="6" fill="#000"/>
<rect x="602" y="323" width="12" height="4" fill="#fff"/>
<rect x="603" y="323" width="4" height="4" fill="#000"/>
<rect x="609" y="323" width="4" height="4" fill="#000"/>
<rect x="601" y="336" width="14" height="6" fill="#000"/>
<rect x="602" y="337" width="12" height="4" fill="#fff"/>
<rect x="603" y="337" width="4" height="4" fill="#000"/>
<rect x="609" y="337" width="4" height="4" fill="#000"/>
<rect x="601" y="350" width="14" height="7" fill="#000"/>
<rect x="602" y="351" width="12" height="5" fill="#fff"/>
<rect x="603" y="351" width="4" height="4" fill="#000"/>
<rect x="609" y="351" width="4" height="4" fill="#000"/>
<rect x="525" y="400" width="20" height="7" fill="#000"/>
<rect x="526" y="401" width="18" height="5" fill="#fff"/>
<rect x="527" y="401" width="4" height="4" fill="#000"/>
<rect x="533" y="401" width="4" height="4" fill="#000"/>
<rect x="539" y="401" width="4" height="4" fill="#000"/>
<rect x="540" y="402" width="2" height="2" fill="#fff"/>
<rect x="293" y="473" width="7" height="14" fill="#000"/>
<rect x="294" y="474" width="5" height="1" fill="#fff"/>
<rect x="294" y="480" width="5" height="1" fill="#fff"/>
<rect x="294" y="485" width="5" height="1" fill="#fff"/>
<rect x="294" y="474" width="1" height="12" fill="#fff"/>
<rect x="442" y="491" width="7" height="14" fill="#000"/>
<rect x="443" y="492" width="5" height="1" fill="#fff"/>
<rect x="443" y="497" width="5" height="1" fill="#fff"/>
<rect x="443" y="503" width="5" height="1" fill="#fff"/>
<rect x="472" y="421" width="77" height="19" fill="#000"/>
<rect x="473" y="422" width="75" height="17" fill="#fff"/>
<rect x="476" y="424" width="60" height="11" fill="#000"/>
<rect x="482" y="424" width="1" height="11" fill="#fff"/>
<rect x="489" y="424" width="1" height="11" fill="#fff"/>
<rect x="496" y="424" width="1" height="11" fill="#fff"/>
<rect x="509" y="424" width="1" height="11" fill="#fff"/>
<rect x="522" y="424" width="1" height="11" fill="#fff"/>
<rect x="529" y="424" width="1" height="11" fill="#fff"/>
<rect x="537" y="424" width="6" height="11" fill="#000"/>
<rect x="538" y="425" width="4" height="9" fill="#fff"/>
<rect x="560" y="416" width="112" height="24" fill="#000"/>
<rect x="561" y="417" width="110" height="22" fill="#fff"/>
<rect x="566" y="419" width="7" height="8" fill="#000"/>
<rect x="567" y="420" width="5" height="6" fill="#fff"/>
<rect x="575" y="419" width="7" height="8" fill="#000"/>
<rect x="576" y="420" width="5" height="6" fill="#fff"/>
<rect x="584" y="419" width="7" height="8" fill="#000"/>
<rect x="585" y="420" width="5" height="6" fill="#fff"/>
<rect x="594" y="419" width="7" height="8" fill="#000"/>
<rect x="595" y="420" width="5" height="6" fill="#fff"/>
<rect x="603" y="419" width="7" height="8" fill="#000"/>
<rect x="604" y="420" width="5" height="6" fill="#fff"/>
<rect x="612" y="419" width="7" height="8" fill="#000"/>
<rect x="613" y="420" width="5" height="6" fill="#fff"/>
<rect x="622" y="419" width="7" height="8" fill="#000"/>
<rect x="623" y="420" width="5" height="6" fill="#fff"/>
<rect x="631" y="419" width="7" height="8" fill="#000"/>
<rect x="632" y="420" width="5" height="6" fill="#fff"/>
<rect x="641" y="419" width="7" height="8" fill="#000"/>
<rect x="642" y="420" width="5" height="6" fill="#fff"/>
<rect x="650" y="419" width="7" height="8" fill="#000"/>
<rect x="651" y="420" width="5" height="6" fill="#fff"/>
<rect x="659" y="419" width="7" height="8" fill="#000"/>
<rect x="660" y="420" width="5" height="6" fill="#fff"/>
<rect x="562" y="428" width="6" height="2" fill="#000"/>
<rect x="562" y="434" width="6" height="3" fill="#000"/>
<rect x="563" y="435" width="4" height="1" fill="#fff"/>
<rect x="562" y="432" width="1" height="3" fill="#000"/>
<rect x="572" y="428" width="6" height="2" fill="#000"/>
<rect x="572" y="434" width="6" height="3" fill="#000"/>
<rect x="573" y="435" width="4" height="1" fill="#fff"/>
<rect x="572" y="432" width="1" height="3" fill="#000"/>
<rect x="581" y="428" width="6" height="2" fill="#000"/>
<rect x="581" y="434" width="6" height="3" fill="#000"/>
<rect x="582" y="435" width="4" height="1" fill="#fff"/>
<rect x="581" y="432" width="1" height="3" fill="#000"/>
<rect x="590" y="428" width="6" height="2" fill="#000"/>
<rect x="590" y="434" width="6" height="3" fill="#000"/>
<rect x="591" y="435" width="4" height="1" fill="#fff"/>
<rect x="590" y="432" width="1" height="3" fill="#000"/>
<rect x="599" y="428" width="6" height="2" fill="#000"/>
<rect x="599" y="434" width="6" height="3" fill="#000"/>
<rect x="600" y="435" width="4" height="1" fill="#fff"/>
<rect x="599" y="432" width="1" height="3" fill="#000"/>
<rect x="608" y="428" width="6" height="2" fill="#000"/>
<rect x="608" y="434" width="6" height="3" fill="#000"/>
<rect x="609" y="435" width="4" height="1" fill="#fff"/>
<rect x="608" y="432" width="1" height="3" fill="#000"/>
<rect x="618" y="428" width="6" height="2" fill="#000"/>
<rect x="618" y="434" width="6" height="3" fill="#000"/>
<rect x="619" y="435" width="4" height="1" fill="#fff"/>
<rect x="618" y="432" width="1" height="3" fill="#000"/>
<rect x="627" y="428" width="6" height="2" fill="#000"/>
<rect x="627" y="434" width="6" height="3" fill="#000"/>
<rect x="628" y="435" width="4" height="1" fill="#fff"/>
<rect x="627" y="432" width="1" height="3" fill="#000"/>
<rect x="636" y="428" width="6" height="2" fill="#000"/>
<rect x="636" y="434" width="6" height="3" fill="#000"/>
<rect x="637" y="435" width="4" height="1" fill="#fff"/>
<rect x="636" y="432" width="1" height="3" fill="#000"/>
<rect x="645" y="428" width="6" height="2" fill="#000"/>
<rect x="645" y="434" width="6" height="3" fill="#000"/>
<rect x="646" y="435" width="4" height="1" fill="#fff"/>
<rect x="645" y="432" width="1" height="3" fill="#000"/>
<rect x="654" y="428" width="6" height="2" fill="#000"/>
<rect x="654" y="434" width="6" height="3" fill="#000"/>
<rect x="655" y="435" width="4" height="1" fill="#fff"/>
<rect x="654" y="432" width="1" height="3" fill="#000"/>
<rect x="664" y="428" width="6" height="2" fill="#000"/>
<rect x="664" y="434" width="6" height="3" fill="#000"/>
<rect x="665" y="435" width="4" height="1" fill="#fff"/>
<rect x="664" y="432" width="1" height="3" fill="#000"/>
<rect x="561" y="432" width="110" height="1" fill="#000"/>
<rect x="560" y="420" width="1" height="5" fill="#fff"/>
<rect x="561" y="420" width="1" height="1" fill="#000"/>
<rect x="561" y="424" width="1" height="1" fill="#000"/>
<rect x="562" y="421" width="1" height="3" fill="#000"/>
<rect x="671" y="420" width="1" height="5" fill="#fff"/>
<rect x="670" y="420" width="1" height="1" fill="#000"/>
<rect x="670" y="424" width="1" height="1" fill="#000"/>
<rect x="669" y="421" width="1" height="3" fill="#000"/>
<path d="M418,396 H447 L449,398 V417 L447,419 H418 L416,417 V398 Z" fill="#000"/>
<rect x="420" y="413" width="2" height="1" fill="#fff"/>
<rect x="420" y="414" width="1" height="1" fill="#fff"/>
<rect x="754" y="433" width="28" height="37" fill="#000"/>
<rect x="778" y="430" width="4" height="44" fill="#000"/>
<rect x="780" y="427" width="2" height="50" fill="#000"/>
<rect x="779" y="428" width="3" height="48" fill="#000"/>
<rect x="747" y="442" width="8" height="8" fill="#000"/>
<rect x="748" y="443" width="6" height="6" fill="#fff"/>
<rect x="747" y="453" width="8" height="9" fill="#000"/>
<rect x="748" y="454" width="6" height="7" fill="#fff"/>
<rect x="752" y="444" width="2" height="1" fill="#000"/>
<rect x="752" y="446" width="2" height="1" fill="#000"/>
<rect x="752" y="448" width="2" height="1" fill="#000"/>
<rect x="752" y="455" width="2" height="1" fill="#000"/>
<rect x="752" y="457" width="2" height="1" fill="#000"/>
<rect x="752" y="459" width="2" height="1" fill="#000"/>
<polygon points="53.4,30 58.1,30 53.5,49.5" fill="#fff" stroke="#000" stroke-width="2" stroke-linejoin="round"/>
<rect x="38" y="14" width="39" height="19" fill="#000"/>
<rect x="36" y="16" width="43" height="15" fill="#000"/>
<rect x="37" y="15" width="41" height="17" fill="#000"/>
<rect x="36" y="30" width="1" height="3" fill="#fff"/>
<rect x="37" y="31" width="1" height="2" fill="#fff"/>
<rect x="38" y="32" width="1" height="1" fill="#fff"/>
<rect x="38" y="16" width="39" height="14" fill="#fff"/>
<polygon points="54.105,30 57.395,30 54.85,37.8" fill="#fff"/>
<polygon points="90.1364,37.1364 93.3636,40.3636 80.5,50" fill="#fff" stroke="#000" stroke-width="2" stroke-linejoin="round"/>
<rect x="91" y="23" width="36" height="19" fill="#000"/>
<rect x="89" y="25" width="40" height="15" fill="#000"/>
<rect x="90" y="24" width="38" height="17" fill="#000"/>
<rect x="89" y="39" width="1" height="3" fill="#fff"/>
<rect x="90" y="40" width="1" height="2" fill="#fff"/>
<rect x="91" y="41" width="1" height="1" fill="#fff"/>
<rect x="91" y="25" width="36" height="14" fill="#fff"/>
<polygon points="90.6205,37.6205 92.8795,39.8795 87.25,43.25" fill="#fff"/>
<polygon points="63.669,74.6021 67.331,77.8979 53,88" fill="#fff" stroke="#000" stroke-width="2" stroke-linejoin="round"/>
<rect x="64" y="61" width="35" height="19" fill="#000"/>
<rect x="62" y="63" width="39" height="15" fill="#000"/>
<rect x="63" y="62" width="37" height="17" fill="#000"/>
<rect x="62" y="77" width="1" height="3" fill="#fff"/>
<rect x="63" y="78" width="1" height="2" fill="#fff"/>
<rect x="64" y="79" width="1" height="1" fill="#fff"/>
<rect x="64" y="63" width="35" height="14" fill="#fff"/>
<polygon points="64.2183,75.0964 66.7817,77.4036 60.5,80.95" fill="#fff"/>
<polygon points="20.9,114 25.6,114 14.3,130" fill="#fff" stroke="#000" stroke-width="2" stroke-linejoin="round"/>
<rect x="9" y="98" width="30" height="19" fill="#000"/>
<rect x="7" y="100" width="34" height="15" fill="#000"/>
<rect x="8" y="99" width="32" height="17" fill="#000"/>
<rect x="7" y="114" width="1" height="3" fill="#fff"/>
<rect x="8" y="115" width="1" height="2" fill="#fff"/>
<rect x="9" y="116" width="1" height="1" fill="#fff"/>
<rect x="9" y="100" width="30" height="14" fill="#fff"/>
<polygon points="21.605,114 24.895,114 19.67,120.4" fill="#fff"/>
<polygon points="66.7028,117.562 70.2972,120.438 55.5,130.5" fill="#fff" stroke="#000" stroke-width="2" stroke-linejoin="round"/>
<rect x="67" y="104" width="35" height="19" fill="#000"/>
<rect x="65" y="106" width="39" height="15" fill="#000"/>
<rect x="66" y="105" width="37" height="17" fill="#000"/>
<rect x="65" y="120" width="1" height="3" fill="#fff"/>
<rect x="66" y="121" width="1" height="2" fill="#fff"/>
<rect x="67" y="122" width="1" height="1" fill="#fff"/>
<rect x="67" y="106" width="35" height="14" fill="#fff"/>
<polygon points="67.2419,117.994 69.7581,120.006 63.3,123.6" fill="#fff"/>
<polygon points="82.7,155 86.8,155 81,138" fill="#fff" stroke="#000" stroke-width="2" stroke-linejoin="round"/>
<rect x="69" y="152" width="30" height="19" fill="#000"/>
<rect x="67" y="154" width="34" height="15" fill="#000"/>
<rect x="68" y="153" width="32" height="17" fill="#000"/>
<rect x="67" y="168" width="1" height="3" fill="#fff"/>
<rect x="68" y="169" width="1" height="2" fill="#fff"/>
<rect x="69" y="170" width="1" height="1" fill="#fff"/>
<rect x="69" y="154" width="30" height="14" fill="#fff"/>
<polygon points="83.315,155 86.185,155 83.25,148.2" fill="#fff"/>
<polygon points="25.4,174 29.6,174 20.3,155" fill="#fff" stroke="#000" stroke-width="2" stroke-linejoin="round"/>
<rect x="10" y="171" width="40" height="20" fill="#000"/>
<rect x="8" y="173" width="44" height="16" fill="#000"/>
<rect x="9" y="172" width="42" height="18" fill="#000"/>
<rect x="8" y="188" width="1" height="3" fill="#fff"/>
<rect x="9" y="189" width="1" height="2" fill="#fff"/>
<rect x="10" y="190" width="1" height="1" fill="#fff"/>
<rect x="11" y="174" width="39" height="14" fill="#fff"/>
<polygon points="26.03,174 28.97,174 24.62,166.4" fill="#fff"/>
<polygon points="408.703,325.562 412.297,328.438 421,316.5" fill="#fff" stroke="#000" stroke-width="2" stroke-linejoin="round"/>
<rect x="391" y="323" width="21" height="19" fill="#000"/>
<rect x="389" y="325" width="25" height="15" fill="#000"/>
<rect x="390" y="324" width="23" height="17" fill="#000"/>
<rect x="389" y="339" width="1" height="3" fill="#fff"/>
<rect x="390" y="340" width="1" height="2" fill="#fff"/>
<rect x="391" y="341" width="1" height="1" fill="#fff"/>
<rect x="391" y="325" width="21" height="14" fill="#fff"/>
<polygon points="409.242,325.994 411.758,328.006 414.7,322.8" fill="#fff"/>
<polygon points="589.495,315.505 592.505,312.495 601.3,324.7" fill="#fff" stroke="#000" stroke-width="2" stroke-linejoin="round"/>
<rect x="563" y="300" width="30" height="19" fill="#000"/>
<rect x="561" y="302" width="34" height="15" fill="#000"/>
<rect x="562" y="301" width="32" height="17" fill="#000"/>
<rect x="561" y="316" width="1" height="3" fill="#fff"/>
<rect x="562" y="317" width="1" height="2" fill="#fff"/>
<rect x="563" y="318" width="1" height="1" fill="#fff"/>
<rect x="563" y="302" width="30" height="14" fill="#fff"/>
<polygon points="589.946,315.054 592.054,312.946 595.12,318.28" fill="#fff"/>
<polygon points="584,335.9 584,342.1 601,339" fill="#fff" stroke="#000" stroke-width="2" stroke-linejoin="round"/>
<rect x="552" y="330" width="32" height="19" fill="#000"/>
<rect x="550" y="332" width="36" height="15" fill="#000"/>
<rect x="551" y="331" width="34" height="17" fill="#000"/>
<rect x="550" y="346" width="1" height="3" fill="#fff"/>
<rect x="551" y="347" width="1" height="2" fill="#fff"/>
<rect x="552" y="348" width="1" height="1" fill="#fff"/>
<rect x="552" y="332" width="32" height="14" fill="#fff"/>
<polygon points="584,336.83 584,341.17 590.8,339" fill="#fff"/>
<polygon points="589.495,362.495 592.505,365.505 601.3,353.3" fill="#fff" stroke="#000" stroke-width="2" stroke-linejoin="round"/>
<rect x="563" y="360" width="30" height="19" fill="#000"/>
<rect x="561" y="362" width="34" height="15" fill="#000"/>
<rect x="562" y="361" width="32" height="17" fill="#000"/>
<rect x="561" y="376" width="1" height="3" fill="#fff"/>
<rect x="562" y="377" width="1" height="2" fill="#fff"/>
<rect x="563" y="378" width="1" height="1" fill="#fff"/>
<rect x="563" y="362" width="30" height="14" fill="#fff"/>
<polygon points="589.946,362.946 592.054,365.054 595.12,359.72" fill="#fff"/>
<polygon points="532.9,381 537.6,381 534.6,400" fill="#fff" stroke="#000" stroke-width="2" stroke-linejoin="round"/>
<rect x="521" y="365" width="30" height="19" fill="#000"/>
<rect x="519" y="367" width="34" height="15" fill="#000"/>
<rect x="520" y="366" width="32" height="17" fill="#000"/>
<rect x="519" y="381" width="1" height="3" fill="#fff"/>
<rect x="520" y="382" width="1" height="2" fill="#fff"/>
<rect x="521" y="383" width="1" height="1" fill="#fff"/>
<rect x="521" y="367" width="30" height="14" fill="#fff"/>
<polygon points="533.605,381 536.895,381 534.99,388.6" fill="#fff"/>
<polygon points="711.9,357 716.6,357 713.3,377" fill="#fff" stroke="#000" stroke-width="2" stroke-linejoin="round"/>
<rect x="700" y="341" width="30" height="19" fill="#000"/>
<rect x="698" y="343" width="34" height="15" fill="#000"/>
<rect x="699" y="342" width="32" height="17" fill="#000"/>
<rect x="701" y="344" width="29" height="14" fill="#fff"/>
<polygon points="712.605,357 715.895,357 713.87,365" fill="#fff"/>
<polygon points="682.495,389.505 685.505,386.495 694.5,398" fill="#fff" stroke="#000" stroke-width="2" stroke-linejoin="round"/>
<rect x="664" y="375" width="21" height="18" fill="#000"/>
<rect x="662" y="377" width="25" height="14" fill="#000"/>
<rect x="663" y="376" width="23" height="16" fill="#000"/>
<rect x="662" y="390" width="1" height="3" fill="#fff"/>
<rect x="663" y="391" width="1" height="2" fill="#fff"/>
<rect x="664" y="392" width="1" height="1" fill="#fff"/>
<rect x="664" y="377" width="21" height="13" fill="#fff"/>
<polygon points="682.946,389.054 685.054,386.946 688.2,392" fill="#fff"/>
<polygon points="735.703,402.562 739.297,405.438 727.5,415" fill="#fff" stroke="#000" stroke-width="2" stroke-linejoin="round"/>
<rect x="736" y="391" width="21" height="18" fill="#000"/>
<rect x="734" y="393" width="25" height="14" fill="#000"/>
<rect x="735" y="392" width="23" height="16" fill="#000"/>
<rect x="734" y="406" width="1" height="3" fill="#fff"/>
<rect x="735" y="407" width="1" height="2" fill="#fff"/>
<rect x="736" y="408" width="1" height="1" fill="#fff"/>
<rect x="736" y="393" width="21" height="13" fill="#fff"/>
<polygon points="736.242,402.994 738.758,405.006 733.5,408.4" fill="#fff"/>
<polygon points="683.703,463.562 687.297,466.438 696,454" fill="#fff" stroke="#000" stroke-width="2" stroke-linejoin="round"/>
<rect x="666" y="461" width="21" height="19" fill="#000"/>
<rect x="664" y="463" width="25" height="15" fill="#000"/>
<rect x="665" y="462" width="23" height="17" fill="#000"/>
<rect x="664" y="477" width="1" height="3" fill="#fff"/>
<rect x="665" y="478" width="1" height="2" fill="#fff"/>
<rect x="666" y="479" width="1" height="1" fill="#fff"/>
<rect x="666" y="463" width="21" height="14" fill="#fff"/>
<polygon points="684.242,463.994 686.758,466.006 689.7,460.6" fill="#fff"/>
<polygon points="490.495,410.505 493.505,407.495 502,421.5" fill="#fff" stroke="#000" stroke-width="2" stroke-linejoin="round"/>
<rect x="465" y="396" width="29" height="18" fill="#000"/>
<rect x="463" y="398" width="33" height="14" fill="#000"/>
<rect x="464" y="397" width="31" height="16" fill="#000"/>
<rect x="466" y="398" width="28" height="14" fill="#fff"/>
<polygon points="490.946,410.054 493.054,407.946 496,414" fill="#fff"/>
<polygon points="501,456.4 501,462.1 517,459.3" fill="#fff" stroke="#000" stroke-width="2" stroke-linejoin="round"/>
<rect x="479" y="450" width="22" height="19" fill="#000"/>
<rect x="477" y="452" width="26" height="15" fill="#000"/>
<rect x="478" y="451" width="24" height="17" fill="#000"/>
<rect x="477" y="466" width="1" height="3" fill="#fff"/>
<rect x="478" y="467" width="1" height="2" fill="#fff"/>
<rect x="479" y="468" width="1" height="1" fill="#fff"/>
<rect x="479" y="452" width="22" height="14" fill="#fff"/>
<polygon points="501,457.255 501,461.245 507.4,459.27" fill="#fff"/>
<polygon points="293.4,455 300.1,455 296.4,472.5" fill="#fff" stroke="#000" stroke-width="2" stroke-linejoin="round"/>
<rect x="280" y="440" width="35" height="18" fill="#000"/>
<rect x="278" y="442" width="39" height="14" fill="#000"/>
<rect x="279" y="441" width="37" height="16" fill="#000"/>
<rect x="278" y="455" width="1" height="3" fill="#fff"/>
<rect x="279" y="456" width="1" height="2" fill="#fff"/>
<rect x="280" y="457" width="1" height="1" fill="#fff"/>
<rect x="280" y="442" width="35" height="13" fill="#fff"/>
<polygon points="294.405,455 299.095,455 296.61,462" fill="#fff"/>
<polygon points="370,449.9 370,455.1 385,452.4" fill="#fff" stroke="#000" stroke-width="2" stroke-linejoin="round"/>
<rect x="346" y="443" width="24" height="19" fill="#000"/>
<rect x="344" y="445" width="28" height="15" fill="#000"/>
<rect x="345" y="444" width="26" height="17" fill="#000"/>
<rect x="346" y="446" width="24" height="14" fill="#fff"/>
<polygon points="370,450.68 370,454.32 376,452.46" fill="#fff"/>
<polygon points="370,474.9 370,480.1 385,477.5" fill="#fff" stroke="#000" stroke-width="2" stroke-linejoin="round"/>
<rect x="345" y="468" width="25" height="19" fill="#000"/>
<rect x="343" y="470" width="29" height="15" fill="#000"/>
<rect x="344" y="469" width="27" height="17" fill="#000"/>
<rect x="343" y="484" width="1" height="3" fill="#fff"/>
<rect x="344" y="485" width="1" height="2" fill="#fff"/>
<rect x="345" y="486" width="1" height="1" fill="#fff"/>
<rect x="345" y="470" width="25" height="14" fill="#fff"/>
<polygon points="370,475.68 370,479.32 376,477.5" fill="#fff"/>
<polygon points="470,495.4 470,501.1 451,498" fill="#fff" stroke="#000" stroke-width="2" stroke-linejoin="round"/>
<rect x="470" y="489" width="26" height="18" fill="#000"/>
<rect x="468" y="491" width="30" height="14" fill="#000"/>
<rect x="469" y="490" width="28" height="16" fill="#000"/>
<rect x="470" y="491" width="26" height="14" fill="#fff"/>
<polygon points="470,496.255 470,500.245 462.4,498.15" fill="#fff"/>
<rect x="208" y="453" width="29" height="19" fill="#000"/>
<rect x="206" y="455" width="33" height="15" fill="#000"/>
<rect x="207" y="454" width="31" height="17" fill="#000"/>
<rect x="209" y="456" width="28" height="14" fill="#fff"/>
<g filter="url(#bw)">
<text transform="translate(0,96) scale(0.75,1)" x="474.72 486.71 492.67 506.96" y="0" font-size="14">BIOS</text>
<text transform="translate(0,118) scale(0.75,1)" x="631.78 643.25 654.72" y="0" font-size="14">KBD</text>
<text transform="translate(0,45) scale(0.75,1)" x="247.92 260.24 271.12 284.18 298.70 303.20" y="0" font-size="14">BANK 3</text>
<text transform="translate(0,87) scale(0.75,1)" x="247.92 260.24 271.12 284.18 298.70 303.03" y="0" font-size="14">BANK 2</text>
<text transform="translate(0,129) scale(0.75,1)" x="247.92 260.24 271.12 284.18 298.70 304.27" y="0" font-size="14">BANK 1</text>
<text transform="translate(0,171) scale(0.75,1)" x="247.92 260.24 271.12 284.18 298.70 303.19" y="0" font-size="14">BANK 0</text>
<text transform="translate(0,391) scale(0.75,1)" x="43.42 58.11 66.62 82.32 94.05" y="0" font-size="14">CACHE</text>
<text transform="translate(0,450) scale(0.75,1)" x="170.36 182.32 194.79" y="0" font-size="14">CPU</text>
<text transform="translate(0,27) scale(0.75,1)" x="55.91 65.52 76.40 85.17" y="0" font-size="14">JP15</text>
<text transform="translate(0,37) scale(0.75,1)" x="128.98 140.72 150.81" y="0" font-size="14">JP9</text>
<text transform="translate(0,75) scale(0.75,1)" x="88.98 98.85 109.33 118.53" y="0" font-size="14">JP13</text>
<text transform="translate(0,112) scale(0.75,1)" x="13.63 26.61 40.76" y="0" font-size="14">SW2</text>
<text transform="translate(0,118) scale(0.75,1)" x="92.18 102.72 113.87 122.48" y="0" font-size="14">JP14</text>
<text transform="translate(0,166) scale(0.75,1)" x="94.16 105.67 119.20" y="0" font-size="14">SW1</text>
<text transform="translate(0,185) scale(0.75,1)" x="18.45 27.38 38.27 47.83" y="0" font-size="14">JP12</text>
<text transform="translate(0,337) scale(0.75,1)" x="526.05 536.48" y="0" font-size="14">P7</text>
<text transform="translate(0,313) scale(0.75,1)" x="754.45 763.78 775.44" y="0" font-size="14">JP5</text>
<text transform="translate(0,344) scale(0.75,1)" x="741.11 750.45 761.95" y="0" font-size="14">JP7</text>
<text transform="translate(0,373) scale(0.75,1)" x="754.45 763.78 775.69" y="0" font-size="14">JP6</text>
<text transform="translate(0,378) scale(0.75,1)" x="698.58 708.18 719.33" y="0" font-size="14">JP3</text>
<text transform="translate(0,355) scale(0.75,1)" x="937.91 947.38 957.33" y="0" font-size="14">JP1</text>
<text transform="translate(0,388) scale(0.75,1)" x="889.65 900.76" y="0" font-size="14">P2</text>
<text transform="translate(0,404) scale(0.75,1)" x="986.05 996.40" y="0" font-size="14">P1</text>
<text transform="translate(0,475) scale(0.75,1)" x="890.31 899.30" y="0" font-size="14">J2</text>
<text transform="translate(0,410) scale(0.75,1)" x="622.83 633.67 648.93" y="0" font-size="14">SW3</text>
<text transform="translate(0,464) scale(0.75,1)" x="644.18 655.60" y="0" font-size="14">P3</text>
<text transform="translate(0,453) scale(0.75,1)" x="377.91 387.38 398.27 405.87" y="0" font-size="14">JP11</text>
<text transform="translate(0,457) scale(0.75,1)" x="466.85 477.97" y="0" font-size="14">P5</text>
<text transform="translate(0,482) scale(0.75,1)" x="466.85 477.82" y="0" font-size="14">P6</text>
<text transform="translate(0,503) scale(0.75,1)" x="627.78 636.98 648.19" y="0" font-size="14">JP8</text>
<text transform="translate(0,467) scale(0.75,1)" x="279.78 293.12 304.65" y="0" font-size="14">NPU</text>
</g>
<g filter="url(#bw2)">
<text transform="translate(0,48) scale(0.72,1)" x="884.95 898.84 908.68 918.12 925.99 936.91" y="0" font-size="12.5">MH0019</text>
</g>
</svg>
</body>
</html>
